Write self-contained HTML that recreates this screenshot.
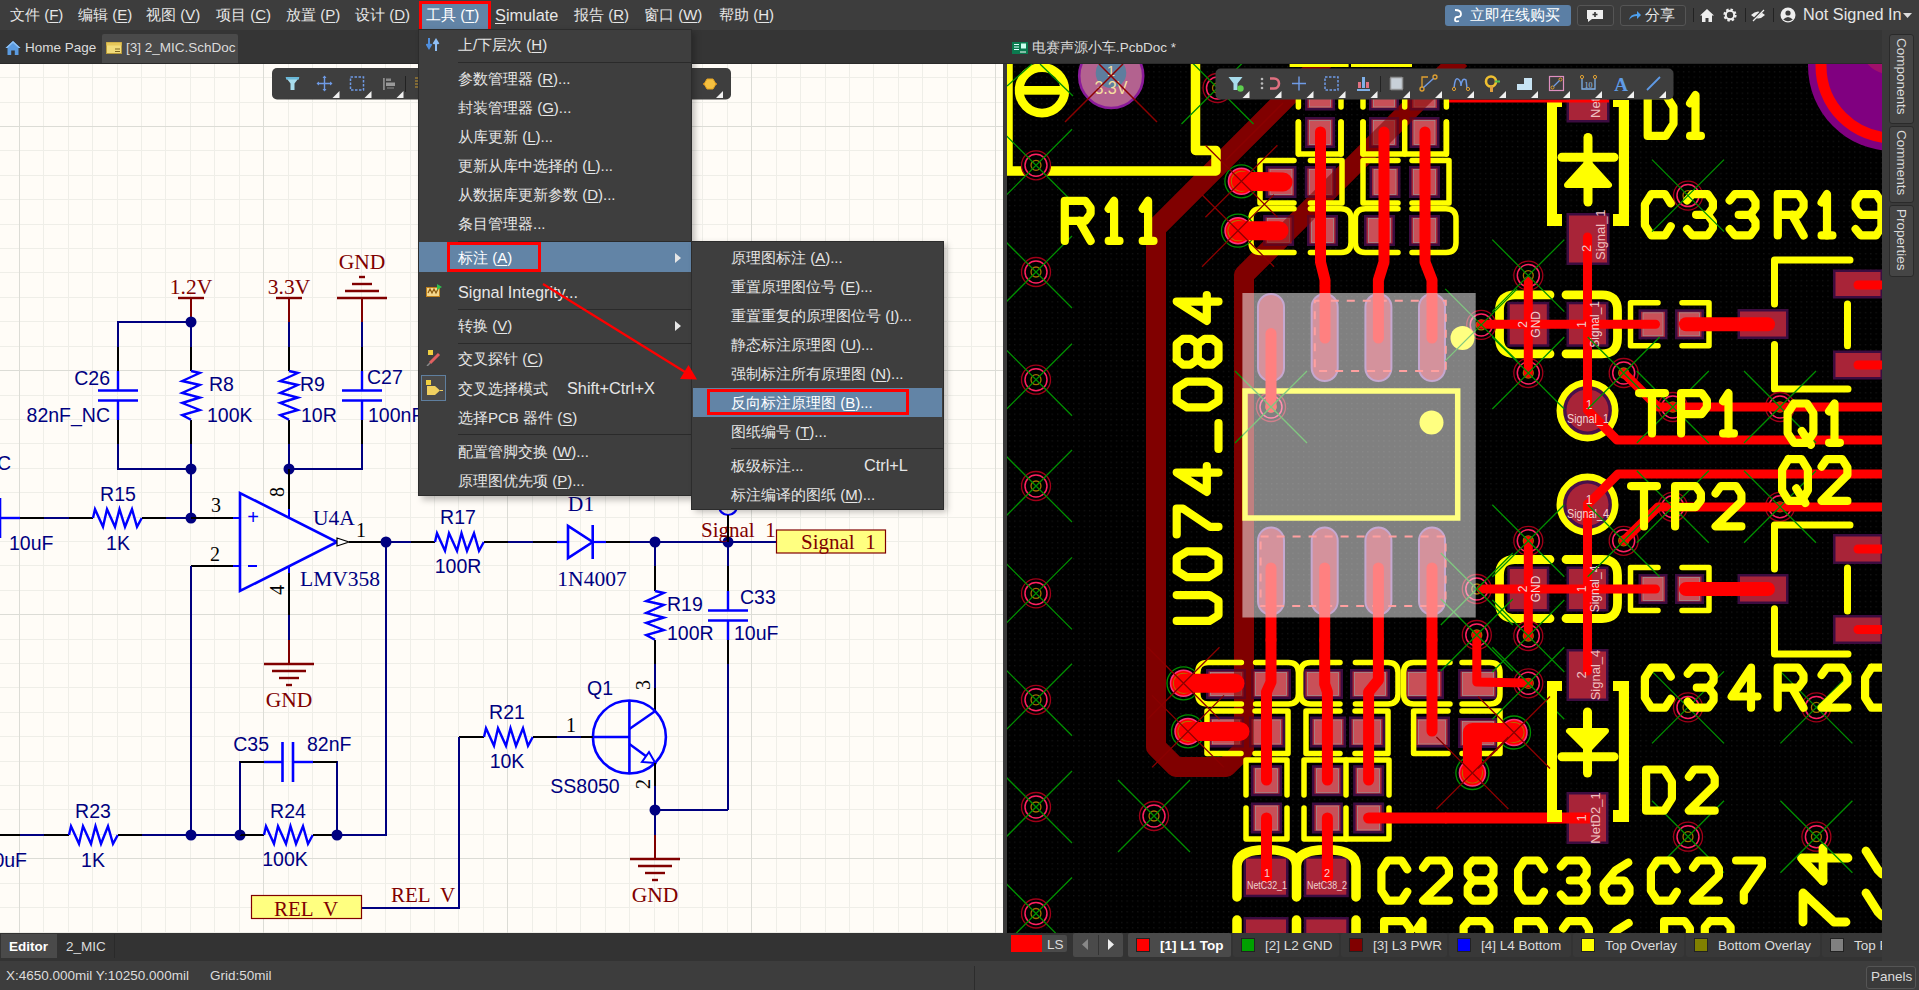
<!DOCTYPE html>
<html><head><meta charset="utf-8"><style>
*{margin:0;padding:0;box-sizing:content-box}
html,body{width:1919px;height:990px;overflow:hidden;background:#333;font-family:"Liberation Sans",sans-serif}
.abs{position:absolute}
u{text-decoration:underline;text-underline-offset:2px}
.mt{font-size:15px;color:#e6e6e6;white-space:nowrap;line-height:20px}
.lat{font-size:16.3px}
.tt{font-size:13.5px;color:#dcdcdc;white-space:nowrap;line-height:18px}
.vt{writing-mode:vertical-rl;line-height:20px;font-size:13.5px}
</style></head><body>
<div class="abs" style="left:0;top:0;width:1919px;height:30px;background:#3d3d3d"></div>
<div class="abs mt" style="left:10px;top:5px">文件 (<u>F</u>)</div>
<div class="abs mt" style="left:78px;top:5px">编辑 (<u>E</u>)</div>
<div class="abs mt" style="left:146px;top:5px">视图 (<u>V</u>)</div>
<div class="abs mt" style="left:216px;top:5px">项目 (<u>C</u>)</div>
<div class="abs mt" style="left:286px;top:5px">放置 (<u>P</u>)</div>
<div class="abs mt" style="left:355px;top:5px">设计 (<u>D</u>)</div>
<div class="abs mt" style="left:495px;top:5px"><span class="lat"><u>S</u>imulate</span></div>
<div class="abs mt" style="left:574px;top:5px">报告 (<u>R</u>)</div>
<div class="abs mt" style="left:644px;top:5px">窗口 (<u>W</u>)</div>
<div class="abs mt" style="left:719px;top:5px">帮助 (<u>H</u>)</div>
<div class="abs" style="left:421px;top:2px;width:68px;height:27px;background:#6284a6"></div>
<div class="abs mt" style="left:426px;top:5px;color:#fff">工具 (<u>T</u>)</div>
<div class="abs" style="left:419px;top:1px;width:66px;height:25px;border:3px solid #f00"></div>
<div class="abs" style="left:1445px;top:5px;width:126px;height:21px;background:#5b7fa5;border-radius:3px"></div>
<svg class="abs" style="left:1452px;top:8px" width="12" height="15" viewBox="0 0 12 15"><path d="M3 2 Q9 2 9 6 Q9 9 5 9 M5 9 Q3 9 3 12 Q3 14 7 13" stroke="#fff" stroke-width="1.8" fill="none"/></svg>
<div class="abs mt" style="left:1470px;top:5px;color:#fff">立即在线购买</div>
<div class="abs" style="left:1577px;top:5px;width:35px;height:19px;background:#3a3a3a;border:1px solid #555;border-radius:3px"></div>
<svg class="abs" style="left:1586px;top:9px" width="18" height="14" viewBox="0 0 18 14"><path d="M1 1 H17 V10 H6 L2 13 V10 H1 Z" fill="#eee"/><path d="M9 3 V8 M6.5 5.5 H11.5" stroke="#333" stroke-width="1.6"/></svg>
<div class="abs" style="left:1620px;top:5px;width:64px;height:19px;background:#3a3a3a;border:1px solid #555;border-radius:3px"></div>
<svg class="abs" style="left:1628px;top:9px" width="14" height="12" viewBox="0 0 14 12"><path d="M1 11 Q2 5 9 5 V2 L13 6 L9 10 V7 Q4 7 1 11Z" fill="#4ea1f0"/></svg>
<div class="abs mt" style="left:1645px;top:5px">分享</div>
<div class="abs" style="left:1693px;top:8px;width:1px;height:14px;background:#222"></div>
<svg class="abs" style="left:1699px;top:8px" width="16" height="15" viewBox="0 0 16 15"><path d="M8 1 L15 7.5 H13 V14 H9.5 V10 H6.5 V14 H3 V7.5 H1 Z" fill="#eee"/></svg>
<svg class="abs" style="left:1722px;top:7px" width="16" height="16" viewBox="0 0 16 16"><circle cx="8" cy="8" r="5" fill="none" stroke="#eee" stroke-width="3.2" stroke-dasharray="2.2 1.7"/><circle cx="8" cy="8" r="4.2" fill="none" stroke="#eee" stroke-width="2"/><circle cx="8" cy="8" r="1.5" fill="#3d3d3d"/></svg>
<div class="abs" style="left:1745px;top:8px;width:1px;height:14px;background:#222"></div>
<svg class="abs" style="left:1750px;top:8px" width="16" height="14" viewBox="0 0 16 14"><path d="M1 7 Q8 0 15 7 Q8 14 1 7Z" fill="#eee"/><path d="M2 13 L14 1" stroke="#3d3d3d" stroke-width="2.4"/><path d="M3 13 L14 2" stroke="#eee" stroke-width="1.2"/></svg>
<div class="abs" style="left:1773px;top:8px;width:1px;height:14px;background:#222"></div>
<svg class="abs" style="left:1780px;top:7px" width="16" height="16" viewBox="0 0 16 16"><circle cx="8" cy="8" r="7.5" fill="#eee"/><circle cx="8" cy="6" r="2.6" fill="#3d3d3d"/><path d="M3.2 12.5 Q8 7.5 12.8 12.5 Q8 16 3.2 12.5Z" fill="#3d3d3d"/></svg>
<div class="abs mt lat" style="left:1803px;top:4px">Not Signed In</div>
<svg class="abs" style="left:1903px;top:13px" width="9" height="6"><path d="M0 0 H9 L4.5 5Z" fill="#ddd"/></svg>
<div class="abs" style="left:0;top:30px;width:1919px;height:34px;background:#353535"></div>
<div class="abs" style="left:0;top:63px;width:1919px;height:1px;background:#2a2a2a"></div>
<svg class="abs" style="left:5px;top:40px" width="16" height="16" viewBox="0 0 16 16"><path d="M8 1 L15.5 8 H13.5 V15 H9.8 V10.5 H6.2 V15 H2.5 V8 H0.5 Z" fill="#5b9be0"/><path d="M8 1 L15.5 8 H13.5 L8 3 L2.5 8 H0.5Z" fill="#8cc0f5"/></svg>
<div class="abs tt" style="left:25px;top:39px">Home Page</div>
<div class="abs" style="left:102px;top:34px;width:136px;height:29px;background:#4a4a4a;border-radius:2px 2px 0 0"></div>
<svg class="abs" style="left:106px;top:42px" width="16" height="12" viewBox="0 0 16 12"><rect x="0.5" y="0.5" width="15" height="11" fill="#f2dc7a" stroke="#b89a3a"/><rect x="0.5" y="0.5" width="15" height="3" fill="#e6c75a"/><path d="M9 7 H14 M9 9.5 H14" stroke="#7a6420" stroke-width="1"/></svg>
<div class="abs tt" style="left:126px;top:39px">[3] 2_MIC.SchDoc</div>
<svg class="abs" style="left:1012px;top:42px" width="16" height="12" viewBox="0 0 16 12"><rect width="16" height="12" fill="#0b7a4f"/><path d="M2 2.5 H7 M2 5 H7 M2 7.5 H7" stroke="#dff" stroke-width="1.1"/><rect x="9" y="1.5" width="5" height="5" fill="#cfe"/><path d="M9 9 V11 M11 9 V11 M13 9 V11" stroke="#fff" stroke-width="1"/></svg>
<div class="abs tt" style="left:1032px;top:39px">电赛声源小车.PcbDoc *</div>
<div class="abs" style="left:0;top:933px;width:1007px;height:28px;background:#333"></div>
<div class="abs" style="left:1px;top:934px;width:56px;height:24px;background:#4a4a4a"></div>
<div class="abs tt" style="left:9px;top:938px;color:#fff;font-weight:bold">Editor</div>
<div class="abs" style="left:58px;top:934px;width:56px;height:24px;background:#333;border-right:1px solid #2a2a2a"></div>
<div class="abs tt" style="left:66px;top:938px">2_MIC</div>
<div class="abs" style="left:1003px;top:932px;width:916px;height:29px;background:#333"></div>
<div class="abs" style="left:1011px;top:935px;width:56px;height:17px;background:#4a4a4a;border-radius:2px"></div>
<div class="abs" style="left:1011px;top:935px;width:31px;height:17px;background:#f00"></div>
<div class="abs tt" style="left:1047px;top:936px">LS</div>
<div class="abs" style="left:1073px;top:933px;width:50px;height:24px;background:#4a4a4a;border-radius:2px"></div>
<div class="abs" style="left:1098px;top:935px;width:1px;height:20px;background:#333"></div>
<svg class="abs" style="left:1081px;top:939px" width="8" height="12"><path d="M7 0 V11 L1 5.5Z" fill="#888"/></svg>
<svg class="abs" style="left:1107px;top:939px" width="8" height="12"><path d="M1 0 V11 L7 5.5Z" fill="#eee"/></svg>
<div class="abs" style="left:1128px;top:933px;width:103px;height:24px;background:#4a4a4a;border-radius:2px"></div>
<div class="abs" style="left:1136px;top:938px;width:12px;height:12px;background:#f00;border:1px solid #222"></div>
<div class="abs tt" style="left:1160px;top:937px;font-weight:bold;color:#fff;">[1] L1 Top</div>
<div class="abs" style="left:1233px;top:933px;width:106px;height:24px;background:#383838;border-radius:2px"></div>
<div class="abs" style="left:1241px;top:938px;width:12px;height:12px;background:#00a000;border:1px solid #222"></div>
<div class="abs tt" style="left:1265px;top:937px;">[2] L2 GND</div>
<div class="abs" style="left:1341px;top:933px;width:106px;height:24px;background:#383838;border-radius:2px"></div>
<div class="abs" style="left:1349px;top:938px;width:12px;height:12px;background:#800000;border:1px solid #222"></div>
<div class="abs tt" style="left:1373px;top:937px;">[3] L3 PWR</div>
<div class="abs" style="left:1449px;top:933px;width:122px;height:24px;background:#383838;border-radius:2px"></div>
<div class="abs" style="left:1457px;top:938px;width:12px;height:12px;background:#0000ff;border:1px solid #222"></div>
<div class="abs tt" style="left:1481px;top:937px;">[4] L4 Bottom</div>
<div class="abs" style="left:1573px;top:933px;width:111px;height:24px;background:#383838;border-radius:2px"></div>
<div class="abs" style="left:1581px;top:938px;width:12px;height:12px;background:#ffff00;border:1px solid #222"></div>
<div class="abs tt" style="left:1605px;top:937px;">Top Overlay</div>
<div class="abs" style="left:1686px;top:933px;width:134px;height:24px;background:#383838;border-radius:2px"></div>
<div class="abs" style="left:1694px;top:938px;width:12px;height:12px;background:#808000;border:1px solid #222"></div>
<div class="abs tt" style="left:1718px;top:937px;">Bottom Overlay</div>
<div class="abs" style="left:1822px;top:933px;width:117px;height:24px;background:#383838;border-radius:2px"></div>
<div class="abs" style="left:1830px;top:938px;width:12px;height:12px;background:#808080;border:1px solid #222"></div>
<div class="abs tt" style="left:1854px;top:937px;">Top Paste</div>
<div class="abs" style="left:0;top:961px;width:1919px;height:29px;background:#3d3d3d"></div>
<div class="abs tt" style="left:6px;top:967px">X:4650.000mil Y:10250.000mil</div>
<div class="abs tt" style="left:210px;top:967px">Grid:50mil</div>
<div class="abs" style="left:974px;top:966px;width:1px;height:24px;background:#2c2c2c"></div>
<div class="abs" style="left:1866px;top:966px;width:48px;height:21px;background:#3a3a3a;border:1px solid #555;border-radius:3px"></div>
<div class="abs tt" style="left:1871px;top:968px">Panels</div>
<div class="abs" style="left:1882px;top:30px;width:37px;height:931px;background:#3a3a3a"></div>
<div class="abs" style="left:1889px;top:34px;width:23px;height:88px;background:#454545;border:1px solid #2a2a2a;border-radius:3px"></div>
<div class="abs tt vt" style="left:1891px;top:38px;width:20px;height:80px">Components</div>
<div class="abs" style="left:1889px;top:126px;width:23px;height:75px;background:#454545;border:1px solid #2a2a2a;border-radius:3px"></div>
<div class="abs tt vt" style="left:1891px;top:130px;width:20px;height:67px">Comments</div>
<div class="abs" style="left:1889px;top:205px;width:23px;height:70px;background:#454545;border:1px solid #2a2a2a;border-radius:3px"></div>
<div class="abs tt vt" style="left:1891px;top:209px;width:20px;height:62px">Properties</div>
<svg class="abs" style="left:0;top:64px" width="1003" height="869" viewBox="0 64 1003 869">
<rect x="0" y="64" width="1003" height="869" fill="#fffcf7"/>
<line x1="43.5" y1="64" x2="43.5" y2="933" stroke="#efeee8"/>
<line x1="68.5" y1="64" x2="68.5" y2="933" stroke="#efeee8"/>
<line x1="92.5" y1="64" x2="92.5" y2="933" stroke="#efeee8"/>
<line x1="117.5" y1="64" x2="117.5" y2="933" stroke="#efeee8"/>
<line x1="141.5" y1="64" x2="141.5" y2="933" stroke="#efeee8"/>
<line x1="165.5" y1="64" x2="165.5" y2="933" stroke="#efeee8"/>
<line x1="190.5" y1="64" x2="190.5" y2="933" stroke="#efeee8"/>
<line x1="214.5" y1="64" x2="214.5" y2="933" stroke="#efeee8"/>
<line x1="239.5" y1="64" x2="239.5" y2="933" stroke="#efeee8"/>
<line x1="288.5" y1="64" x2="288.5" y2="933" stroke="#efeee8"/>
<line x1="312.5" y1="64" x2="312.5" y2="933" stroke="#efeee8"/>
<line x1="336.5" y1="64" x2="336.5" y2="933" stroke="#efeee8"/>
<line x1="361.5" y1="64" x2="361.5" y2="933" stroke="#efeee8"/>
<line x1="385.5" y1="64" x2="385.5" y2="933" stroke="#efeee8"/>
<line x1="410.5" y1="64" x2="410.5" y2="933" stroke="#efeee8"/>
<line x1="434.5" y1="64" x2="434.5" y2="933" stroke="#efeee8"/>
<line x1="458.5" y1="64" x2="458.5" y2="933" stroke="#efeee8"/>
<line x1="483.5" y1="64" x2="483.5" y2="933" stroke="#efeee8"/>
<line x1="532.5" y1="64" x2="532.5" y2="933" stroke="#efeee8"/>
<line x1="556.5" y1="64" x2="556.5" y2="933" stroke="#efeee8"/>
<line x1="580.5" y1="64" x2="580.5" y2="933" stroke="#efeee8"/>
<line x1="605.5" y1="64" x2="605.5" y2="933" stroke="#efeee8"/>
<line x1="629.5" y1="64" x2="629.5" y2="933" stroke="#efeee8"/>
<line x1="654.5" y1="64" x2="654.5" y2="933" stroke="#efeee8"/>
<line x1="678.5" y1="64" x2="678.5" y2="933" stroke="#efeee8"/>
<line x1="702.5" y1="64" x2="702.5" y2="933" stroke="#efeee8"/>
<line x1="727.5" y1="64" x2="727.5" y2="933" stroke="#efeee8"/>
<line x1="776.5" y1="64" x2="776.5" y2="933" stroke="#efeee8"/>
<line x1="800.5" y1="64" x2="800.5" y2="933" stroke="#efeee8"/>
<line x1="825.5" y1="64" x2="825.5" y2="933" stroke="#efeee8"/>
<line x1="849.5" y1="64" x2="849.5" y2="933" stroke="#efeee8"/>
<line x1="873.5" y1="64" x2="873.5" y2="933" stroke="#efeee8"/>
<line x1="898.5" y1="64" x2="898.5" y2="933" stroke="#efeee8"/>
<line x1="922.5" y1="64" x2="922.5" y2="933" stroke="#efeee8"/>
<line x1="947.5" y1="64" x2="947.5" y2="933" stroke="#efeee8"/>
<line x1="971.5" y1="64" x2="971.5" y2="933" stroke="#efeee8"/>
<line x1="0" y1="77.5" x2="1003" y2="77.5" stroke="#efeee8"/>
<line x1="0" y1="102.5" x2="1003" y2="102.5" stroke="#efeee8"/>
<line x1="0" y1="150.5" x2="1003" y2="150.5" stroke="#efeee8"/>
<line x1="0" y1="175.5" x2="1003" y2="175.5" stroke="#efeee8"/>
<line x1="0" y1="199.5" x2="1003" y2="199.5" stroke="#efeee8"/>
<line x1="0" y1="224.5" x2="1003" y2="224.5" stroke="#efeee8"/>
<line x1="0" y1="248.5" x2="1003" y2="248.5" stroke="#efeee8"/>
<line x1="0" y1="272.5" x2="1003" y2="272.5" stroke="#efeee8"/>
<line x1="0" y1="297.5" x2="1003" y2="297.5" stroke="#efeee8"/>
<line x1="0" y1="321.5" x2="1003" y2="321.5" stroke="#efeee8"/>
<line x1="0" y1="346.5" x2="1003" y2="346.5" stroke="#efeee8"/>
<line x1="0" y1="395.5" x2="1003" y2="395.5" stroke="#efeee8"/>
<line x1="0" y1="419.5" x2="1003" y2="419.5" stroke="#efeee8"/>
<line x1="0" y1="443.5" x2="1003" y2="443.5" stroke="#efeee8"/>
<line x1="0" y1="468.5" x2="1003" y2="468.5" stroke="#efeee8"/>
<line x1="0" y1="492.5" x2="1003" y2="492.5" stroke="#efeee8"/>
<line x1="0" y1="517.5" x2="1003" y2="517.5" stroke="#efeee8"/>
<line x1="0" y1="541.5" x2="1003" y2="541.5" stroke="#efeee8"/>
<line x1="0" y1="565.5" x2="1003" y2="565.5" stroke="#efeee8"/>
<line x1="0" y1="590.5" x2="1003" y2="590.5" stroke="#efeee8"/>
<line x1="0" y1="639.5" x2="1003" y2="639.5" stroke="#efeee8"/>
<line x1="0" y1="663.5" x2="1003" y2="663.5" stroke="#efeee8"/>
<line x1="0" y1="687.5" x2="1003" y2="687.5" stroke="#efeee8"/>
<line x1="0" y1="712.5" x2="1003" y2="712.5" stroke="#efeee8"/>
<line x1="0" y1="736.5" x2="1003" y2="736.5" stroke="#efeee8"/>
<line x1="0" y1="761.5" x2="1003" y2="761.5" stroke="#efeee8"/>
<line x1="0" y1="785.5" x2="1003" y2="785.5" stroke="#efeee8"/>
<line x1="0" y1="809.5" x2="1003" y2="809.5" stroke="#efeee8"/>
<line x1="0" y1="834.5" x2="1003" y2="834.5" stroke="#efeee8"/>
<line x1="0" y1="883.5" x2="1003" y2="883.5" stroke="#efeee8"/>
<line x1="0" y1="907.5" x2="1003" y2="907.5" stroke="#efeee8"/>
<line x1="0" y1="932.5" x2="1003" y2="932.5" stroke="#efeee8"/>
<line x1="19.5" y1="64" x2="19.5" y2="933" stroke="#dcdcd6"/>
<line x1="263.5" y1="64" x2="263.5" y2="933" stroke="#dcdcd6"/>
<line x1="507.5" y1="64" x2="507.5" y2="933" stroke="#dcdcd6"/>
<line x1="751.5" y1="64" x2="751.5" y2="933" stroke="#dcdcd6"/>
<line x1="995.5" y1="64" x2="995.5" y2="933" stroke="#dcdcd6"/>
<line x1="0" y1="126.5" x2="1003" y2="126.5" stroke="#dcdcd6"/>
<line x1="0" y1="370.5" x2="1003" y2="370.5" stroke="#dcdcd6"/>
<line x1="0" y1="614.5" x2="1003" y2="614.5" stroke="#dcdcd6"/>
<line x1="0" y1="858.5" x2="1003" y2="858.5" stroke="#dcdcd6"/>
<line x1="178" y1="298" x2="204" y2="298" stroke="#800000" stroke-width="2.4"/>
<line x1="191" y1="298" x2="191" y2="322" stroke="#800000" stroke-width="2"/>
<text xml:space="preserve" x="191" y="294" font-family="Liberation Serif" font-size="21.5" fill="#800000" text-anchor="middle" >1.2V</text>
<line x1="276" y1="298" x2="302" y2="298" stroke="#800000" stroke-width="2.4"/>
<line x1="289" y1="298" x2="289" y2="322" stroke="#800000" stroke-width="2"/>
<text xml:space="preserve" x="289" y="294" font-family="Liberation Serif" font-size="21.5" fill="#800000" text-anchor="middle" >3.3V</text>
<line x1="362" y1="298" x2="362" y2="322" stroke="#800000" stroke-width="2"/>
<line x1="337" y1="298" x2="387" y2="298" stroke="#800000" stroke-width="2.4"/>
<line x1="345" y1="291" x2="379" y2="291" stroke="#800000" stroke-width="2.4"/>
<line x1="352" y1="284" x2="372" y2="284" stroke="#800000" stroke-width="2.4"/>
<line x1="359" y1="277" x2="365" y2="277" stroke="#800000" stroke-width="2.4"/>
<text xml:space="preserve" x="362" y="269" font-family="Liberation Serif" font-size="21.5" fill="#800000" text-anchor="middle" >GND</text>
<polyline points="118.0,347.0 118.0,322.0 191.0,322.0 191.0,347.0" stroke="#000080" stroke-width="2" fill="none"/>
<polyline points="118.0,444.0 118.0,469.0 191.0,469.0 191.0,444.0" stroke="#000080" stroke-width="2" fill="none"/>
<line x1="191" y1="469" x2="191" y2="518" stroke="#000080" stroke-width="2"/>
<polyline points="289.0,347.0 289.0,322.0" stroke="#000080" stroke-width="2" fill="none"/>
<polyline points="362.0,347.0 362.0,322.0" stroke="#000080" stroke-width="2" fill="none"/>
<polyline points="289.0,444.0 289.0,469.0 362.0,469.0 362.0,444.0" stroke="#000080" stroke-width="2" fill="none"/>
<line x1="118" y1="347" x2="118" y2="371" stroke="#000" stroke-width="2"/>
<line x1="118" y1="420" x2="118" y2="444" stroke="#000" stroke-width="2"/>
<line x1="191" y1="347" x2="191" y2="371" stroke="#000" stroke-width="2"/>
<line x1="191" y1="420" x2="191" y2="444" stroke="#000" stroke-width="2"/>
<line x1="289" y1="347" x2="289" y2="371" stroke="#000" stroke-width="2"/>
<line x1="289" y1="420" x2="289" y2="444" stroke="#000" stroke-width="2"/>
<line x1="362" y1="347" x2="362" y2="371" stroke="#000" stroke-width="2"/>
<line x1="362" y1="420" x2="362" y2="444" stroke="#000" stroke-width="2"/>
<polyline points="191.0,371.0 199.8,373.0 182.2,381.0 199.8,385.0 182.2,393.0 199.8,397.5 182.2,403.0 199.8,410.0 182.2,415.0 191.0,419.8" stroke="#0000ff" stroke-width="2.4" fill="none"/>
<polyline points="289.0,371.0 297.8,373.0 280.2,381.0 297.8,385.0 280.2,393.0 297.8,397.5 280.2,403.0 297.8,410.0 280.2,415.0 289.0,419.8" stroke="#0000ff" stroke-width="2.4" fill="none"/>
<line x1="118" y1="371" x2="118" y2="390.5" stroke="#0000ff" stroke-width="2.4"/>
<line x1="118" y1="400.5" x2="118" y2="420" stroke="#0000ff" stroke-width="2.4"/>
<line x1="98" y1="390.5" x2="138" y2="390.5" stroke="#0000ff" stroke-width="2.6"/>
<line x1="98" y1="400.5" x2="138" y2="400.5" stroke="#0000ff" stroke-width="2.6"/>
<line x1="362" y1="371" x2="362" y2="390.5" stroke="#0000ff" stroke-width="2.4"/>
<line x1="362" y1="400.5" x2="362" y2="420" stroke="#0000ff" stroke-width="2.4"/>
<line x1="342" y1="390.5" x2="382" y2="390.5" stroke="#0000ff" stroke-width="2.6"/>
<line x1="342" y1="400.5" x2="382" y2="400.5" stroke="#0000ff" stroke-width="2.6"/>
<circle cx="191" cy="322" r="5.5" fill="#000080"/>
<circle cx="191" cy="469" r="5.5" fill="#000080"/>
<circle cx="289" cy="469" r="5.5" fill="#000080"/>
<text xml:space="preserve" x="110" y="385" font-family="Liberation Sans" font-size="19.5" fill="#000080" text-anchor="end" >C26</text>
<text xml:space="preserve" x="110" y="421.5" font-family="Liberation Sans" font-size="19.5" fill="#000080" text-anchor="end" >82nF_NC</text>
<text xml:space="preserve" x="209" y="391" font-family="Liberation Sans" font-size="19.5" fill="#000080" text-anchor="start" >R8</text>
<text xml:space="preserve" x="207" y="422" font-family="Liberation Sans" font-size="19.5" fill="#000080" text-anchor="start" >100K</text>
<text xml:space="preserve" x="300" y="391" font-family="Liberation Sans" font-size="19.5" fill="#000080" text-anchor="start" >R9</text>
<text xml:space="preserve" x="301" y="422" font-family="Liberation Sans" font-size="19.5" fill="#000080" text-anchor="start" >10R</text>
<text xml:space="preserve" x="367" y="384" font-family="Liberation Sans" font-size="19.5" fill="#000080" text-anchor="start" >C27</text>
<text xml:space="preserve" x="368" y="422" font-family="Liberation Sans" font-size="19.5" fill="#000080" text-anchor="start" >100nF</text>
<line x1="0" y1="498" x2="0" y2="538" stroke="#0000ff" stroke-width="2.6"/>
<line x1="0" y1="518" x2="20" y2="518" stroke="#0000ff" stroke-width="2.4"/>
<line x1="20" y1="518" x2="44" y2="518" stroke="#000" stroke-width="2"/>
<line x1="44" y1="518" x2="69" y2="518" stroke="#000080" stroke-width="2"/>
<line x1="69" y1="518" x2="93" y2="518" stroke="#000" stroke-width="2"/>
<polyline points="93.0,518.0 95.0,509.2 103.0,526.8 107.0,509.2 115.0,526.8 119.5,509.2 125.0,526.8 132.0,509.2 137.0,526.8 141.8,518.0" stroke="#0000ff" stroke-width="2.4" fill="none"/>
<line x1="142" y1="518" x2="166" y2="518" stroke="#000" stroke-width="2"/>
<line x1="166" y1="518" x2="191" y2="518" stroke="#000080" stroke-width="2"/>
<circle cx="191" cy="518" r="5.5" fill="#000080"/>
<text xml:space="preserve" x="-3" y="470" font-family="Liberation Sans" font-size="19.5" fill="#000080" text-anchor="start" >C</text>
<text xml:space="preserve" x="9" y="549.5" font-family="Liberation Sans" font-size="19.5" fill="#000080" text-anchor="start" >10uF</text>
<text xml:space="preserve" x="118" y="501" font-family="Liberation Sans" font-size="19.5" fill="#000080" text-anchor="middle" >R15</text>
<text xml:space="preserve" x="118" y="549.5" font-family="Liberation Sans" font-size="19.5" fill="#000080" text-anchor="middle" >1K</text>
<line x1="191" y1="518" x2="233" y2="518" stroke="#000" stroke-width="2"/>
<line x1="233" y1="518" x2="240" y2="518" stroke="#0000ff" stroke-width="2"/>
<polygon points="240,493 240,591 337,542" fill="none" stroke="#0000ff" stroke-width="2.6"/>
<line x1="191" y1="566" x2="233" y2="566" stroke="#000" stroke-width="2"/>
<line x1="233" y1="566" x2="240" y2="566" stroke="#0000ff" stroke-width="2"/>
<text xml:space="preserve" x="216" y="512" font-family="Liberation Serif" font-size="20" fill="#000" text-anchor="middle" >3</text>
<text xml:space="preserve" x="215" y="561" font-family="Liberation Serif" font-size="20" fill="#000" text-anchor="middle" >2</text>
<text xml:space="preserve" x="253" y="524" font-family="Liberation Sans" font-size="20" fill="#0000ff" text-anchor="middle" >+</text>
<line x1="248" y1="566" x2="257" y2="566" stroke="#0000ff" stroke-width="2"/>
<line x1="289" y1="469" x2="289" y2="509" stroke="#000" stroke-width="2"/>
<line x1="289" y1="509" x2="289" y2="517" stroke="#0000ff" stroke-width="2"/>
<line x1="289" y1="566" x2="289" y2="573" stroke="#0000ff" stroke-width="2"/>
<line x1="289" y1="573" x2="289" y2="615" stroke="#000" stroke-width="2"/>
<line x1="289" y1="615" x2="289" y2="640" stroke="#000080" stroke-width="2"/>
<line x1="289" y1="640" x2="289" y2="664" stroke="#800000" stroke-width="2"/>
<line x1="264" y1="664" x2="314" y2="664" stroke="#800000" stroke-width="2.4"/>
<line x1="272" y1="671" x2="306" y2="671" stroke="#800000" stroke-width="2.4"/>
<line x1="279" y1="678" x2="299" y2="678" stroke="#800000" stroke-width="2.4"/>
<line x1="286" y1="685" x2="292" y2="685" stroke="#800000" stroke-width="2.4"/>
<text xml:space="preserve" x="289" y="707" font-family="Liberation Serif" font-size="21.5" fill="#800000" text-anchor="middle" >GND</text>
<text xml:space="preserve" x="284" y="492" font-family="Liberation Serif" font-size="20" fill="#000" text-anchor="middle" transform="rotate(-90 284 492)" dy="0">8</text>
<text xml:space="preserve" x="284" y="590" font-family="Liberation Serif" font-size="20" fill="#000" text-anchor="middle" transform="rotate(-90 284 590)">4</text>
<text xml:space="preserve" x="313" y="525" font-family="Liberation Serif" font-size="21.5" fill="#000080" text-anchor="start" >U4A</text>
<text xml:space="preserve" x="300" y="586" font-family="Liberation Serif" font-size="21.5" fill="#000080" text-anchor="start" >LMV358</text>
<polygon points="337,538 349,542 337,546" fill="#fff" stroke="#000" stroke-width="1.2"/>
<line x1="349" y1="542" x2="386" y2="542" stroke="#000" stroke-width="2"/>
<circle cx="386" cy="542" r="5.5" fill="#000080"/>
<text xml:space="preserve" x="361" y="537" font-family="Liberation Serif" font-size="20" fill="#000" text-anchor="middle" >1</text>
<line x1="386" y1="542" x2="411" y2="542" stroke="#000080" stroke-width="2"/>
<line x1="411" y1="542" x2="435" y2="542" stroke="#000" stroke-width="2"/>
<polyline points="435.0,542.0 437.0,533.2 445.0,550.8 449.0,533.2 457.0,550.8 461.5,533.2 467.0,550.8 474.0,533.2 479.0,550.8 483.8,542.0" stroke="#0000ff" stroke-width="2.4" fill="none"/>
<line x1="484" y1="542" x2="508" y2="542" stroke="#000" stroke-width="2"/>
<line x1="508" y1="542" x2="533" y2="542" stroke="#000080" stroke-width="2"/>
<line x1="533" y1="542" x2="557" y2="542" stroke="#000" stroke-width="2"/>
<text xml:space="preserve" x="458" y="524" font-family="Liberation Sans" font-size="19.5" fill="#000080" text-anchor="middle" >R17</text>
<text xml:space="preserve" x="458" y="573" font-family="Liberation Sans" font-size="19.5" fill="#000080" text-anchor="middle" >100R</text>
<line x1="557" y1="542" x2="568" y2="542" stroke="#0000ff" stroke-width="2.2"/>
<polygon points="568,526 568,558 592.7,542" fill="none" stroke="#0000ff" stroke-width="2.6"/>
<line x1="592.7" y1="525" x2="592.7" y2="559" stroke="#0000ff" stroke-width="2.6"/>
<line x1="592.7" y1="542" x2="606" y2="542" stroke="#0000ff" stroke-width="2.2"/>
<line x1="606" y1="542" x2="630" y2="542" stroke="#000" stroke-width="2"/>
<line x1="630" y1="542" x2="728" y2="542" stroke="#000080" stroke-width="2"/>
<circle cx="655" cy="542" r="5.5" fill="#000080"/>
<circle cx="728" cy="542" r="5.5" fill="#000080"/>
<text xml:space="preserve" x="581" y="511" font-family="Liberation Serif" font-size="21.5" fill="#000080" text-anchor="middle" >D1</text>
<text xml:space="preserve" x="592" y="586" font-family="Liberation Serif" font-size="21.5" fill="#000080" text-anchor="middle" >1N4007</text>
<line x1="728" y1="542" x2="776" y2="542" stroke="#000080" stroke-width="2"/>
<rect x="776.5" y="530" width="109" height="23" fill="#ffff80" stroke="#800000" stroke-width="1.2"/>
<text xml:space="preserve" x="801" y="549" font-family="Liberation Serif" font-size="21" fill="#800000" text-anchor="start" >Signal  1</text>
<text xml:space="preserve" x="701" y="537" font-family="Liberation Serif" font-size="21" fill="#800000" text-anchor="start" >Signal  1</text>
<circle cx="728" cy="506" r="9" fill="none" stroke="#0000ff" stroke-width="2.2"/>
<line x1="728" y1="515" x2="728" y2="542" stroke="#000" stroke-width="2"/>
<line x1="655" y1="542" x2="655" y2="566" stroke="#000080" stroke-width="2"/>
<line x1="655" y1="566" x2="655" y2="591" stroke="#000" stroke-width="2"/>
<polyline points="655.0,591.0 663.8,593.0 646.2,601.0 663.8,605.0 646.2,613.0 663.8,617.5 646.2,623.0 663.8,630.0 646.2,635.0 655.0,639.8" stroke="#0000ff" stroke-width="2.4" fill="none"/>
<line x1="655" y1="640" x2="655" y2="664" stroke="#000" stroke-width="2"/>
<line x1="655" y1="664" x2="655" y2="688" stroke="#000080" stroke-width="2"/>
<line x1="655" y1="688" x2="655" y2="711" stroke="#000" stroke-width="2"/>
<text xml:space="preserve" x="667" y="611" font-family="Liberation Sans" font-size="19.5" fill="#000080" text-anchor="start" >R19</text>
<text xml:space="preserve" x="667" y="640" font-family="Liberation Sans" font-size="19.5" fill="#000080" text-anchor="start" >100R</text>
<line x1="728" y1="542" x2="728" y2="566" stroke="#000080" stroke-width="2"/>
<line x1="728" y1="566" x2="728" y2="591" stroke="#000" stroke-width="2"/>
<line x1="728" y1="591" x2="728" y2="610.5" stroke="#0000ff" stroke-width="2.4"/>
<line x1="728" y1="620.5" x2="728" y2="640" stroke="#0000ff" stroke-width="2.4"/>
<line x1="708" y1="610.5" x2="748" y2="610.5" stroke="#0000ff" stroke-width="2.6"/>
<line x1="708" y1="620.5" x2="748" y2="620.5" stroke="#0000ff" stroke-width="2.6"/>
<line x1="728" y1="640" x2="728" y2="664" stroke="#000" stroke-width="2"/>
<line x1="728" y1="664" x2="728" y2="810" stroke="#000080" stroke-width="2"/>
<text xml:space="preserve" x="740" y="604" font-family="Liberation Sans" font-size="19.5" fill="#000080" text-anchor="start" >C33</text>
<text xml:space="preserve" x="734" y="640" font-family="Liberation Sans" font-size="19.5" fill="#000080" text-anchor="start" >10uF</text>
<polyline points="728.0,810.0 655.0,810.0" stroke="#000080" stroke-width="2" fill="none"/>
<circle cx="655" cy="810" r="5.5" fill="#000080"/>
<circle cx="629.4" cy="737" r="36.5" fill="none" stroke="#0000ff" stroke-width="2.6"/>
<line x1="592.7" y1="737" x2="629.4" y2="737" stroke="#0000ff" stroke-width="2.4"/>
<line x1="629.4" y1="700" x2="629.4" y2="773" stroke="#0000ff" stroke-width="2.6"/>
<line x1="629.4" y1="729" x2="655.3" y2="711" stroke="#0000ff" stroke-width="2.4"/>
<line x1="629.4" y1="744" x2="655.3" y2="763" stroke="#0000ff" stroke-width="2.4"/>
<polygon points="655.3,763 642,762 649,752" fill="#fff" stroke="#0000ff" stroke-width="2"/>
<line x1="655" y1="763" x2="655" y2="786" stroke="#000" stroke-width="2"/>
<line x1="655" y1="786" x2="655" y2="835" stroke="#000080" stroke-width="2"/>
<line x1="655" y1="835" x2="655" y2="859" stroke="#800000" stroke-width="2"/>
<line x1="630" y1="859" x2="680" y2="859" stroke="#800000" stroke-width="2.4"/>
<line x1="638" y1="866" x2="672" y2="866" stroke="#800000" stroke-width="2.4"/>
<line x1="645" y1="873" x2="665" y2="873" stroke="#800000" stroke-width="2.4"/>
<line x1="652" y1="880" x2="658" y2="880" stroke="#800000" stroke-width="2.4"/>
<text xml:space="preserve" x="655" y="902" font-family="Liberation Serif" font-size="21.5" fill="#800000" text-anchor="middle" >GND</text>
<text xml:space="preserve" x="600" y="695" font-family="Liberation Sans" font-size="19.5" fill="#000080" text-anchor="middle" >Q1</text>
<text xml:space="preserve" x="585" y="793" font-family="Liberation Sans" font-size="19.5" fill="#000080" text-anchor="middle" >SS8050</text>
<text xml:space="preserve" x="571" y="732" font-family="Liberation Serif" font-size="20" fill="#000" text-anchor="middle" >1</text>
<text xml:space="preserve" x="650" y="685" font-family="Liberation Serif" font-size="20" fill="#000" text-anchor="middle" transform="rotate(-90 650 685)">3</text>
<text xml:space="preserve" x="650" y="784" font-family="Liberation Serif" font-size="20" fill="#000" text-anchor="middle" transform="rotate(-90 650 784)">2</text>
<line x1="459" y1="737" x2="484" y2="737" stroke="#000" stroke-width="2"/>
<polyline points="484.0,737.0 486.0,728.2 494.0,745.8 498.0,728.2 506.0,745.8 510.5,728.2 516.0,745.8 523.0,728.2 528.0,745.8 532.8,737.0" stroke="#0000ff" stroke-width="2.4" fill="none"/>
<line x1="533" y1="737" x2="557" y2="737" stroke="#000" stroke-width="2"/>
<line x1="557" y1="737" x2="581" y2="737" stroke="#000080" stroke-width="2"/>
<line x1="581" y1="737" x2="592.7" y2="737" stroke="#000" stroke-width="2"/>
<polyline points="459.0,737.0 459.0,908.0 361.5,908.0" stroke="#000080" stroke-width="2" fill="none"/>
<text xml:space="preserve" x="507" y="719" font-family="Liberation Sans" font-size="19.5" fill="#000080" text-anchor="middle" >R21</text>
<text xml:space="preserve" x="507" y="768" font-family="Liberation Sans" font-size="19.5" fill="#000080" text-anchor="middle" >10K</text>
<text xml:space="preserve" x="391" y="902" font-family="Liberation Serif" font-size="21" fill="#800000" text-anchor="start" >REL  V</text>
<rect x="251.5" y="895.5" width="110" height="23" fill="#ffff80" stroke="#800000" stroke-width="1.2"/>
<text xml:space="preserve" x="306" y="916" font-family="Liberation Serif" font-size="21" fill="#800000" text-anchor="middle" >REL  V</text>
<line x1="191" y1="566" x2="191" y2="835" stroke="#000080" stroke-width="2"/>
<circle cx="191" cy="835" r="5.5" fill="#000080"/>
<polyline points="386.0,542.0 386.0,835.0 337.0,835.0" stroke="#000080" stroke-width="2" fill="none"/>
<line x1="0" y1="835" x2="20" y2="835" stroke="#000" stroke-width="2"/>
<line x1="20" y1="835" x2="44" y2="835" stroke="#000080" stroke-width="2"/>
<line x1="44" y1="835" x2="69" y2="835" stroke="#000" stroke-width="2"/>
<polyline points="69.0,835.0 71.0,826.2 79.0,843.8 83.0,826.2 91.0,843.8 95.5,826.2 101.0,843.8 108.0,826.2 113.0,843.8 117.8,835.0" stroke="#0000ff" stroke-width="2.4" fill="none"/>
<line x1="118" y1="835" x2="142" y2="835" stroke="#000" stroke-width="2"/>
<line x1="142" y1="835" x2="240" y2="835" stroke="#000080" stroke-width="2"/>
<circle cx="240" cy="835" r="5.5" fill="#000080"/>
<line x1="240" y1="835" x2="264" y2="835" stroke="#000" stroke-width="2"/>
<polyline points="264.0,835.0 266.0,826.2 274.0,843.8 278.0,826.2 286.0,843.8 290.5,826.2 296.0,843.8 303.0,826.2 308.0,843.8 312.8,835.0" stroke="#0000ff" stroke-width="2.4" fill="none"/>
<line x1="313" y1="835" x2="337" y2="835" stroke="#000" stroke-width="2"/>
<circle cx="337" cy="835" r="5.5" fill="#000080"/>
<text xml:space="preserve" x="93" y="818" font-family="Liberation Sans" font-size="19.5" fill="#000080" text-anchor="middle" >R23</text>
<text xml:space="preserve" x="93" y="867" font-family="Liberation Sans" font-size="19.5" fill="#000080" text-anchor="middle" >1K</text>
<text xml:space="preserve" x="288" y="818" font-family="Liberation Sans" font-size="19.5" fill="#000080" text-anchor="middle" >R24</text>
<text xml:space="preserve" x="285" y="866" font-family="Liberation Sans" font-size="19.5" fill="#000080" text-anchor="middle" >100K</text>
<text xml:space="preserve" x="27" y="867" font-family="Liberation Sans" font-size="19.5" fill="#000080" text-anchor="end" >0uF</text>
<polyline points="240.0,835.0 240.0,762.0 264.0,762.0" stroke="#000080" stroke-width="2" fill="none"/>
<polyline points="337.0,835.0 337.0,762.0 313.0,762.0" stroke="#000080" stroke-width="2" fill="none"/>
<line x1="240" y1="762" x2="265" y2="762" stroke="#000" stroke-width="2"/>
<line x1="312" y1="762" x2="337" y2="762" stroke="#000" stroke-width="2"/>
<line x1="264" y1="762" x2="282.5" y2="762" stroke="#0000ff" stroke-width="2.4"/>
<line x1="293" y1="762" x2="313" y2="762" stroke="#0000ff" stroke-width="2.4"/>
<line x1="282.5" y1="742" x2="282.5" y2="782" stroke="#0000ff" stroke-width="2.6"/>
<line x1="293" y1="742" x2="293" y2="782" stroke="#0000ff" stroke-width="2.6"/>
<text xml:space="preserve" x="269" y="751" font-family="Liberation Sans" font-size="19.5" fill="#000080" text-anchor="end" >C35</text>
<text xml:space="preserve" x="307" y="751" font-family="Liberation Sans" font-size="19.5" fill="#000080" text-anchor="start" >82nF</text>
</svg>
<div class="abs" style="left:1003px;top:64px;width:4px;height:869px;background:#3a3a3a"></div>
<svg class="abs" style="left:1007px;top:64px" width="875" height="869" viewBox="1007 64 875 869">
<rect x="1007" y="64" width="875" height="869" fill="#000"/>
<defs><pattern id="dots" x="1007" y="64" width="5.35" height="5.35" patternUnits="userSpaceOnUse"><rect x="2" y="2" width="1" height="1" fill="#202020"/></pattern></defs>
<rect x="1007" y="64" width="875" height="869" fill="url(#dots)"/>
<polyline points="1330.0,54.0 1156.0,228.0 1156.0,747.0 1176.0,767.0 1226.0,767.0 1244.0,749.0 1244.0,275.0 1400.0,119.0 1460.0,59.0" stroke="#800000" stroke-width="20" fill="none" stroke-linecap="butt" stroke-linejoin="round" />
<rect x="1305.0" y="79.5" width="30" height="31" fill="#3c0c40"/>
<rect x="1307.5" y="82.0" width="25" height="26" fill="#a82438"/>
<rect x="1309.5" y="83.0" width="21" height="24" fill="#c85058" stroke="#a09090" stroke-width="0.8"/>
<rect x="1305.0" y="117.0" width="30" height="31" fill="#3c0c40"/>
<rect x="1307.5" y="119.5" width="25" height="26" fill="#a82438"/>
<rect x="1309.5" y="120.5" width="21" height="24" fill="#c85058" stroke="#a09090" stroke-width="0.8"/>
<rect x="1369.0" y="79.5" width="30" height="31" fill="#3c0c40"/>
<rect x="1371.5" y="82.0" width="25" height="26" fill="#a82438"/>
<rect x="1373.5" y="83.0" width="21" height="24" fill="#c85058" stroke="#a09090" stroke-width="0.8"/>
<rect x="1369.0" y="117.0" width="30" height="31" fill="#3c0c40"/>
<rect x="1371.5" y="119.5" width="25" height="26" fill="#a82438"/>
<rect x="1373.5" y="120.5" width="21" height="24" fill="#c85058" stroke="#a09090" stroke-width="0.8"/>
<rect x="1409.5" y="79.5" width="30" height="31" fill="#3c0c40"/>
<rect x="1412.0" y="82.0" width="25" height="26" fill="#a82438"/>
<rect x="1414.0" y="83.0" width="21" height="24" fill="#c85058" stroke="#a09090" stroke-width="0.8"/>
<rect x="1409.5" y="117.0" width="30" height="31" fill="#3c0c40"/>
<rect x="1412.0" y="119.5" width="25" height="26" fill="#a82438"/>
<rect x="1414.0" y="120.5" width="21" height="24" fill="#c85058" stroke="#a09090" stroke-width="0.8"/>
<rect x="1265.5" y="166.0" width="31" height="32" fill="#3c0c40"/>
<rect x="1268.0" y="168.5" width="26" height="27" fill="#a82438"/>
<rect x="1270.0" y="169.5" width="22" height="25" fill="#c85058" stroke="#a09090" stroke-width="0.8"/>
<rect x="1304.8" y="166.0" width="31" height="32" fill="#3c0c40"/>
<rect x="1307.3" y="168.5" width="26" height="27" fill="#a82438"/>
<rect x="1309.3" y="169.5" width="22" height="25" fill="#c85058" stroke="#a09090" stroke-width="0.8"/>
<rect x="1369.5" y="166.0" width="31" height="32" fill="#3c0c40"/>
<rect x="1372.0" y="168.5" width="26" height="27" fill="#a82438"/>
<rect x="1374.0" y="169.5" width="22" height="25" fill="#c85058" stroke="#a09090" stroke-width="0.8"/>
<rect x="1409.0" y="166.0" width="31" height="32" fill="#3c0c40"/>
<rect x="1411.5" y="168.5" width="26" height="27" fill="#a82438"/>
<rect x="1413.5" y="169.5" width="22" height="25" fill="#c85058" stroke="#a09090" stroke-width="0.8"/>
<rect x="1263.1" y="215.0" width="31" height="31" fill="#3c0c40"/>
<rect x="1265.6" y="217.5" width="26" height="26" fill="#a82438"/>
<rect x="1267.6" y="218.5" width="22" height="24" fill="#c85058" stroke="#a09090" stroke-width="0.8"/>
<rect x="1307.0" y="215.0" width="31" height="31" fill="#3c0c40"/>
<rect x="1309.5" y="217.5" width="26" height="26" fill="#a82438"/>
<rect x="1311.5" y="218.5" width="22" height="24" fill="#c85058" stroke="#a09090" stroke-width="0.8"/>
<rect x="1364.0" y="215.0" width="31" height="31" fill="#3c0c40"/>
<rect x="1366.5" y="217.5" width="26" height="26" fill="#a82438"/>
<rect x="1368.5" y="218.5" width="22" height="24" fill="#c85058" stroke="#a09090" stroke-width="0.8"/>
<rect x="1409.0" y="215.0" width="31" height="31" fill="#3c0c40"/>
<rect x="1411.5" y="217.5" width="26" height="26" fill="#a82438"/>
<rect x="1413.5" y="218.5" width="22" height="24" fill="#c85058" stroke="#a09090" stroke-width="0.8"/>
<rect x="1566.5" y="77.5" width="43" height="45" fill="#3c0c40"/>
<rect x="1569.0" y="80.0" width="38" height="40" fill="#a82438"/>
<rect x="1566.5" y="213.0" width="43" height="52" fill="#3c0c40"/>
<rect x="1569.0" y="215.5" width="38" height="47" fill="#a82438"/>
<rect x="1833.0" y="269.5" width="50" height="29" fill="#3c0c40"/>
<rect x="1835.5" y="272.0" width="45" height="24" fill="#a82438"/>
<rect x="1833.0" y="350.5" width="50" height="29" fill="#3c0c40"/>
<rect x="1835.5" y="353.0" width="45" height="24" fill="#a82438"/>
<rect x="1737.5" y="309.0" width="51" height="30" fill="#3c0c40"/>
<rect x="1740.0" y="311.5" width="46" height="25" fill="#a82438"/>
<rect x="1507.3" y="301.8" width="42" height="45" fill="#3c0c40"/>
<rect x="1509.8" y="304.3" width="37" height="40" fill="#a82438"/>
<rect x="1566.5" y="301.8" width="42" height="45" fill="#3c0c40"/>
<rect x="1569.0" y="304.3" width="37" height="40" fill="#a82438"/>
<rect x="1638.5" y="309.3" width="29" height="30" fill="#3c0c40"/>
<rect x="1641.0" y="311.8" width="24" height="25" fill="#a82438"/>
<rect x="1643.0" y="312.8" width="20" height="23" fill="#c85058" stroke="#a09090" stroke-width="0.8"/>
<rect x="1675.0" y="309.3" width="29" height="30" fill="#3c0c40"/>
<rect x="1677.5" y="311.8" width="24" height="25" fill="#a82438"/>
<rect x="1679.5" y="312.8" width="20" height="23" fill="#c85058" stroke="#a09090" stroke-width="0.8"/>
<rect x="1507.3" y="566.5" width="42" height="45" fill="#3c0c40"/>
<rect x="1509.8" y="569.0" width="37" height="40" fill="#a82438"/>
<rect x="1566.5" y="566.5" width="42" height="45" fill="#3c0c40"/>
<rect x="1569.0" y="569.0" width="37" height="40" fill="#a82438"/>
<rect x="1638.5" y="574.0" width="29" height="30" fill="#3c0c40"/>
<rect x="1641.0" y="576.5" width="24" height="25" fill="#a82438"/>
<rect x="1643.0" y="577.5" width="20" height="23" fill="#c85058" stroke="#a09090" stroke-width="0.8"/>
<rect x="1675.0" y="574.0" width="29" height="30" fill="#3c0c40"/>
<rect x="1677.5" y="576.5" width="24" height="25" fill="#a82438"/>
<rect x="1679.5" y="577.5" width="20" height="23" fill="#c85058" stroke="#a09090" stroke-width="0.8"/>
<rect x="1833.0" y="534.0" width="50" height="30" fill="#3c0c40"/>
<rect x="1835.5" y="536.5" width="45" height="25" fill="#a82438"/>
<rect x="1833.0" y="615.0" width="50" height="29" fill="#3c0c40"/>
<rect x="1835.5" y="617.5" width="45" height="24" fill="#a82438"/>
<rect x="1737.5" y="574.0" width="51" height="30" fill="#3c0c40"/>
<rect x="1740.0" y="576.5" width="46" height="25" fill="#a82438"/>
<rect x="1566.5" y="649.0" width="42" height="52" fill="#3c0c40"/>
<rect x="1569.0" y="651.5" width="37" height="47" fill="#a82438"/>
<rect x="1566.5" y="792.0" width="42" height="52" fill="#3c0c40"/>
<rect x="1569.0" y="794.5" width="37" height="47" fill="#a82438"/>
<rect x="1458.0" y="669.0" width="40" height="30" fill="#3c0c40"/>
<rect x="1460.5" y="671.5" width="35" height="25" fill="#a82438"/>
<rect x="1462.5" y="672.5" width="31" height="23" fill="#c85058" stroke="#a09090" stroke-width="0.8"/>
<rect x="1458.0" y="718.0" width="40" height="30" fill="#3c0c40"/>
<rect x="1460.5" y="720.5" width="35" height="25" fill="#a82438"/>
<rect x="1462.5" y="721.5" width="31" height="23" fill="#c85058" stroke="#a09090" stroke-width="0.8"/>
<rect x="1206.0" y="669.0" width="40" height="30" fill="#3c0c40"/>
<rect x="1208.5" y="671.5" width="35" height="25" fill="#a82438"/>
<rect x="1210.5" y="672.5" width="31" height="23" fill="#c85058" stroke="#a09090" stroke-width="0.8"/>
<rect x="1251.0" y="669.0" width="40" height="30" fill="#3c0c40"/>
<rect x="1253.5" y="671.5" width="35" height="25" fill="#a82438"/>
<rect x="1255.5" y="672.5" width="31" height="23" fill="#c85058" stroke="#a09090" stroke-width="0.8"/>
<rect x="1303.0" y="669.0" width="40" height="30" fill="#3c0c40"/>
<rect x="1305.5" y="671.5" width="35" height="25" fill="#a82438"/>
<rect x="1307.5" y="672.5" width="31" height="23" fill="#c85058" stroke="#a09090" stroke-width="0.8"/>
<rect x="1350.0" y="669.0" width="40" height="30" fill="#3c0c40"/>
<rect x="1352.5" y="671.5" width="35" height="25" fill="#a82438"/>
<rect x="1354.5" y="672.5" width="31" height="23" fill="#c85058" stroke="#a09090" stroke-width="0.8"/>
<rect x="1404.0" y="669.0" width="40" height="30" fill="#3c0c40"/>
<rect x="1406.5" y="671.5" width="35" height="25" fill="#a82438"/>
<rect x="1408.5" y="672.5" width="31" height="23" fill="#c85058" stroke="#a09090" stroke-width="0.8"/>
<rect x="1208.0" y="716.5" width="36" height="31" fill="#3c0c40"/>
<rect x="1210.5" y="719.0" width="31" height="26" fill="#a82438"/>
<rect x="1212.5" y="720.0" width="27" height="24" fill="#c85058" stroke="#a09090" stroke-width="0.8"/>
<rect x="1249.0" y="716.5" width="36" height="31" fill="#3c0c40"/>
<rect x="1251.5" y="719.0" width="31" height="26" fill="#a82438"/>
<rect x="1253.5" y="720.0" width="27" height="24" fill="#c85058" stroke="#a09090" stroke-width="0.8"/>
<rect x="1310.0" y="716.5" width="36" height="31" fill="#3c0c40"/>
<rect x="1312.5" y="719.0" width="31" height="26" fill="#a82438"/>
<rect x="1314.5" y="720.0" width="27" height="24" fill="#c85058" stroke="#a09090" stroke-width="0.8"/>
<rect x="1349.0" y="716.5" width="36" height="31" fill="#3c0c40"/>
<rect x="1351.5" y="719.0" width="31" height="26" fill="#a82438"/>
<rect x="1353.5" y="720.0" width="27" height="24" fill="#c85058" stroke="#a09090" stroke-width="0.8"/>
<rect x="1414.0" y="716.5" width="36" height="31" fill="#3c0c40"/>
<rect x="1416.5" y="719.0" width="31" height="26" fill="#a82438"/>
<rect x="1418.5" y="720.0" width="27" height="24" fill="#c85058" stroke="#a09090" stroke-width="0.8"/>
<rect x="1251.0" y="765.2" width="31" height="31" fill="#3c0c40"/>
<rect x="1253.5" y="767.7" width="26" height="26" fill="#a82438"/>
<rect x="1255.5" y="768.7" width="22" height="24" fill="#c85058" stroke="#a09090" stroke-width="0.8"/>
<rect x="1251.0" y="802.5" width="31" height="31" fill="#3c0c40"/>
<rect x="1253.5" y="805.0" width="26" height="26" fill="#a82438"/>
<rect x="1255.5" y="806.0" width="22" height="24" fill="#c85058" stroke="#a09090" stroke-width="0.8"/>
<rect x="1311.9" y="765.2" width="31" height="31" fill="#3c0c40"/>
<rect x="1314.4" y="767.7" width="26" height="26" fill="#a82438"/>
<rect x="1316.4" y="768.7" width="22" height="24" fill="#c85058" stroke="#a09090" stroke-width="0.8"/>
<rect x="1311.9" y="802.5" width="31" height="31" fill="#3c0c40"/>
<rect x="1314.4" y="805.0" width="26" height="26" fill="#a82438"/>
<rect x="1316.4" y="806.0" width="22" height="24" fill="#c85058" stroke="#a09090" stroke-width="0.8"/>
<rect x="1353.1" y="765.2" width="31" height="31" fill="#3c0c40"/>
<rect x="1355.6" y="767.7" width="26" height="26" fill="#a82438"/>
<rect x="1357.6" y="768.7" width="22" height="24" fill="#c85058" stroke="#a09090" stroke-width="0.8"/>
<rect x="1353.1" y="802.5" width="31" height="31" fill="#3c0c40"/>
<rect x="1355.6" y="805.0" width="26" height="26" fill="#a82438"/>
<rect x="1357.6" y="806.0" width="22" height="24" fill="#c85058" stroke="#a09090" stroke-width="0.8"/>
<rect x="1243.5" y="856.2" width="45" height="41" fill="#3c0c40"/>
<rect x="1246.0" y="858.7" width="40" height="36" fill="#a82438"/>
<rect x="1303.8" y="856.2" width="45" height="41" fill="#3c0c40"/>
<rect x="1306.3" y="858.7" width="40" height="36" fill="#a82438"/>
<rect x="1243.5" y="917.0" width="45" height="36" fill="#3c0c40"/>
<rect x="1246.0" y="919.5" width="40" height="31" fill="#a82438"/>
<rect x="1303.8" y="917.0" width="45" height="36" fill="#3c0c40"/>
<rect x="1306.3" y="919.5" width="40" height="31" fill="#a82438"/>
<polyline points="1330,54 1156,228 1156,747 1176,767 1226,767 1244,749 1244,275 1400,119 1460,59" stroke="#800000" stroke-width="20" fill="none" stroke-linejoin="round" opacity="0.55"/>
<polyline points="1008.0,60.0 1008.0,171.0 1216.0,171.0 1216.0,150.5 1195.5,150.5 1195.5,60.0" stroke="#ffff00" stroke-width="9.5" fill="none" stroke-linecap="round" stroke-linejoin="round" />
<circle cx="1042" cy="90.3" r="22.8" fill="none" stroke="#ffff00" stroke-width="8.8"/>
<rect x="1019" y="86" width="46" height="8.7" fill="#ffff00" />
<circle cx="1111.2" cy="76" r="32" fill="#b3628f" stroke="#8a1a9a" stroke-width="2.6"/>
<circle cx="1111" cy="72.8" r="15.3" fill="#5e7e9e" stroke="none" stroke-width="1"/>
<text x="1111" y="76" font-family="Liberation Sans" font-size="15" fill="#f5dfa0" text-anchor="middle">1</text>
<text x="1111" y="94.5" font-family="Liberation Sans" font-size="19" fill="#f5dfa0" text-anchor="middle" transform="translate(1111 0) scale(0.85 1) translate(-1111 0)">3.3V</text>
<line x1="1065" y1="122" x2="1123" y2="64" stroke="#8b0000" stroke-width="1.5" stroke-linecap="butt"/>
<line x1="1099" y1="64" x2="1157" y2="122" stroke="#8b0000" stroke-width="1.5" stroke-linecap="butt"/>
<line x1="1007" y1="86" x2="1032" y2="64" stroke="#009000" stroke-width="1.3" stroke-linecap="butt"/>
<line x1="1040" y1="64" x2="1073" y2="96" stroke="#009000" stroke-width="1.3" stroke-linecap="butt"/>
<circle cx="1893" cy="66" r="85" fill="#800080" stroke="none" stroke-width="1"/>
<circle cx="1893" cy="66" r="72" fill="none" stroke="#ff0000" stroke-width="11"/>
<circle cx="1893" cy="40" r="30" fill="none" stroke="#a0106a" stroke-width="10"/>
<circle cx="1036" cy="165.3" r="14.5" fill="#000" stroke="#a00018" stroke-width="1.3"/>
<circle cx="1036" cy="165.3" r="11" fill="none" stroke="#ff2060" stroke-width="1.5"/>
<circle cx="1036" cy="165.3" r="5" fill="none" stroke="#a07000" stroke-width="1.3"/>
<circle cx="1036" cy="272" r="14.5" fill="#000" stroke="#a00018" stroke-width="1.3"/>
<circle cx="1036" cy="272" r="11" fill="none" stroke="#ff2060" stroke-width="1.5"/>
<circle cx="1036" cy="272" r="5" fill="none" stroke="#a07000" stroke-width="1.3"/>
<circle cx="1036" cy="379.7" r="14.5" fill="#000" stroke="#a00018" stroke-width="1.3"/>
<circle cx="1036" cy="379.7" r="11" fill="none" stroke="#ff2060" stroke-width="1.5"/>
<circle cx="1036" cy="379.7" r="5" fill="none" stroke="#a07000" stroke-width="1.3"/>
<circle cx="1036" cy="486" r="14.5" fill="#000" stroke="#a00018" stroke-width="1.3"/>
<circle cx="1036" cy="486" r="11" fill="none" stroke="#ff2060" stroke-width="1.5"/>
<circle cx="1036" cy="486" r="5" fill="none" stroke="#a07000" stroke-width="1.3"/>
<circle cx="1036" cy="593.4" r="14.5" fill="#000" stroke="#a00018" stroke-width="1.3"/>
<circle cx="1036" cy="593.4" r="11" fill="none" stroke="#ff2060" stroke-width="1.5"/>
<circle cx="1036" cy="593.4" r="5" fill="none" stroke="#a07000" stroke-width="1.3"/>
<circle cx="1036" cy="699.8" r="14.5" fill="#000" stroke="#a00018" stroke-width="1.3"/>
<circle cx="1036" cy="699.8" r="11" fill="none" stroke="#ff2060" stroke-width="1.5"/>
<circle cx="1036" cy="699.8" r="5" fill="none" stroke="#a07000" stroke-width="1.3"/>
<circle cx="1036" cy="807" r="14.5" fill="#000" stroke="#a00018" stroke-width="1.3"/>
<circle cx="1036" cy="807" r="11" fill="none" stroke="#ff2060" stroke-width="1.5"/>
<circle cx="1036" cy="807" r="5" fill="none" stroke="#a07000" stroke-width="1.3"/>
<circle cx="1036" cy="913.5" r="14.5" fill="#000" stroke="#a00018" stroke-width="1.3"/>
<circle cx="1036" cy="913.5" r="11" fill="none" stroke="#ff2060" stroke-width="1.5"/>
<circle cx="1036" cy="913.5" r="5" fill="none" stroke="#a07000" stroke-width="1.3"/>
<circle cx="1154" cy="816" r="14.5" fill="#000" stroke="#a00018" stroke-width="1.3"/>
<circle cx="1154" cy="816" r="11" fill="none" stroke="#ff2060" stroke-width="1.5"/>
<circle cx="1154" cy="816" r="5" fill="none" stroke="#a07000" stroke-width="1.3"/>
<circle cx="1217.5" cy="88" r="14.5" fill="#000" stroke="#a00018" stroke-width="1.3"/>
<circle cx="1217.5" cy="88" r="11" fill="none" stroke="#ff2060" stroke-width="1.5"/>
<circle cx="1217.5" cy="88" r="5" fill="none" stroke="#a07000" stroke-width="1.3"/>
<polyline points="1298.4,122.0 1298.4,154.0 1341.0,154.0 1341.0,122.0" stroke="#ffff00" stroke-width="5.5" fill="none" stroke-linecap="round" stroke-linejoin="round" />
<line x1="1298.4" y1="122" x2="1298.4" y2="154" stroke="#ffff00" stroke-width="5.5" stroke-linecap="round"/>
<line x1="1298.4" y1="100" x2="1298.4" y2="107" stroke="#ffff00" stroke-width="5.5" stroke-linecap="round"/>
<line x1="1341" y1="122" x2="1341" y2="154" stroke="#ffff00" stroke-width="5.5" stroke-linecap="round"/>
<line x1="1341" y1="100" x2="1341" y2="107" stroke="#ffff00" stroke-width="5.5" stroke-linecap="round"/>
<polyline points="1363.0,122.0 1363.0,154.0 1446.4,154.0 1446.4,122.0" stroke="#ffff00" stroke-width="5.5" fill="none" stroke-linecap="round" stroke-linejoin="round" />
<line x1="1363" y1="122" x2="1363" y2="154" stroke="#ffff00" stroke-width="5.5" stroke-linecap="round"/>
<line x1="1363" y1="100" x2="1363" y2="107" stroke="#ffff00" stroke-width="5.5" stroke-linecap="round"/>
<line x1="1404.7" y1="122" x2="1404.7" y2="154" stroke="#ffff00" stroke-width="5.5" stroke-linecap="round"/>
<line x1="1404.7" y1="100" x2="1404.7" y2="107" stroke="#ffff00" stroke-width="5.5" stroke-linecap="round"/>
<line x1="1446.4" y1="122" x2="1446.4" y2="154" stroke="#ffff00" stroke-width="5.5" stroke-linecap="round"/>
<line x1="1446.4" y1="100" x2="1446.4" y2="107" stroke="#ffff00" stroke-width="5.5" stroke-linecap="round"/>
<polyline points="1294.0,160.5 1260.0,160.5 1260.0,203.0 1294.0,203.0" stroke="#ffff00" stroke-width="5.5" fill="none" stroke-linecap="round" stroke-linejoin="round" />
<polyline points="1310.4,160.5 1342.0,160.5 1342.0,203.0 1310.4,203.0" stroke="#ffff00" stroke-width="5.5" fill="none" stroke-linecap="round" stroke-linejoin="round" />
<polyline points="1398.0,160.5 1363.0,160.5 1363.0,203.0 1398.0,203.0" stroke="#ffff00" stroke-width="5.5" fill="none" stroke-linecap="round" stroke-linejoin="round" />
<polyline points="1412.0,160.5 1449.0,160.5 1449.0,203.0 1412.0,203.0" stroke="#ffff00" stroke-width="5.5" fill="none" stroke-linecap="round" stroke-linejoin="round" />
<path d="M1294 208.7 H1261 Q1251 208.7 1251 218.7 V242.6 Q1251 252.6 1261 252.6 H1294 M1310.4 208.7 H1341 Q1351 208.7 1351 218.7 V242.6 Q1351 252.6 1341 252.6 H1310.4" fill="none" stroke="#ffff00" stroke-width="5.5" stroke-linecap="round"/>
<path d="M1398 208.7 H1365.4 Q1355.4 208.7 1355.4 218.7 V242.6 Q1355.4 252.6 1365.4 252.6 H1398 M1412 208.7 H1446 Q1456 208.7 1456 218.7 V242.6 Q1456 252.6 1446 252.6 H1412" fill="none" stroke="#ffff00" stroke-width="5.5" stroke-linecap="round"/>
<rect x="1293" y="200" width="16" height="60" fill="none" />
<rect x="1397" y="200" width="16" height="60" fill="none" />
<circle cx="1241.4" cy="181.3" r="16.5" fill="none" stroke="#009000" stroke-width="1.3"/>
<circle cx="1241.4" cy="181.3" r="13" fill="#ff0000" stroke="#ff3080" stroke-width="1.5"/>
<circle cx="1241.4" cy="181.3" r="10" fill="#ff0000" stroke="#b07000" stroke-width="1.2"/>
<circle cx="1238" cy="230.7" r="16.5" fill="none" stroke="#009000" stroke-width="1.3"/>
<circle cx="1238" cy="230.7" r="13" fill="#ff0000" stroke="#ff3080" stroke-width="1.5"/>
<circle cx="1238" cy="230.7" r="10" fill="#ff0000" stroke="#b07000" stroke-width="1.2"/>
<line x1="1226" y1="160" x2="1283" y2="103" stroke="#8b0000" stroke-width="1.3"/>
<rect x="1289.6" y="64" width="59" height="3" fill="#ffff00" />
<rect x="1351" y="64" width="61" height="3" fill="#ffff00" />
<rect x="1547" y="100" width="10" height="126" fill="#ffff00" />
<rect x="1547" y="214" width="15" height="12" fill="#ffff00" />
<rect x="1618.8" y="100" width="10.2" height="126" fill="#ffff00" />
<rect x="1613" y="214" width="16" height="12" fill="#ffff00" />
<rect x="1547" y="100" width="15" height="7" fill="#ffff00" />
<rect x="1613" y="100" width="16" height="7" fill="#ffff00" />
<line x1="1588" y1="137.5" x2="1588" y2="202" stroke="#ffff00" stroke-width="9" stroke-linecap="round"/>
<line x1="1562" y1="157.2" x2="1614" y2="157.2" stroke="#ffff00" stroke-width="9" stroke-linecap="round"/>
<polygon points="1588,162 1609,185 1567,185" fill="#ffff00" stroke="#ffff00" stroke-width="6" stroke-linejoin="round"/>
<circle cx="1688" cy="195.6" r="14.5" fill="#000" stroke="#a00018" stroke-width="1.3"/>
<circle cx="1688" cy="195.6" r="11" fill="none" stroke="#ff2060" stroke-width="1.5"/>
<circle cx="1688" cy="195.6" r="5" fill="none" stroke="#a07000" stroke-width="1.3"/>
<circle cx="1528.3" cy="275.6" r="14.5" fill="#000" stroke="#a00018" stroke-width="1.3"/>
<circle cx="1528.3" cy="275.6" r="11" fill="none" stroke="#ff2060" stroke-width="1.5"/>
<circle cx="1528.3" cy="275.6" r="5" fill="none" stroke="#a07000" stroke-width="1.3"/>
<polyline points="1774.5,304.0 1774.5,260.0 1850.0,260.0" stroke="#ffff00" stroke-width="7" fill="none" stroke-linecap="round" stroke-linejoin="round" />
<polyline points="1774.5,344.6 1774.5,389.0 1848.0,389.0" stroke="#ffff00" stroke-width="7" fill="none" stroke-linecap="round" stroke-linejoin="round" />
<line x1="1847.5" y1="304" x2="1847.5" y2="345.7" stroke="#ffff00" stroke-width="7" stroke-linecap="round"/>
<path d="M1550 294.8 H1515 Q1499.5 294.8 1499.5 310.3 V338.3 Q1499.5 353.8 1515 353.8 H1550" fill="none" stroke="#ffff00" stroke-width="8.8" stroke-linecap="round"/>
<path d="M1566 294.8 H1602 Q1617.5 294.8 1617.5 310.3 V338.3 Q1617.5 353.8 1602 353.8 H1566" fill="none" stroke="#ffff00" stroke-width="8.8" stroke-linecap="round"/>
<path d="M1550 559.5 H1515 Q1499.5 559.5 1499.5 575 V603 Q1499.5 618.5 1515 618.5 H1550" fill="none" stroke="#ffff00" stroke-width="8.8" stroke-linecap="round"/>
<path d="M1566 559.5 H1602 Q1617.5 559.5 1617.5 575 V603 Q1617.5 618.5 1602 618.5 H1566" fill="none" stroke="#ffff00" stroke-width="8.8" stroke-linecap="round"/>
<polyline points="1658.0,302.8 1630.5,302.8 1630.5,345.8 1658.0,345.8" stroke="#ffff00" stroke-width="5.5" fill="none" stroke-linecap="round" stroke-linejoin="round" />
<polyline points="1682.0,302.8 1709.0,302.8 1709.0,345.8 1682.0,345.8" stroke="#ffff00" stroke-width="5.5" fill="none" stroke-linecap="round" stroke-linejoin="round" />
<polyline points="1658.0,567.5 1630.5,567.5 1630.5,610.5 1658.0,610.5" stroke="#ffff00" stroke-width="5.5" fill="none" stroke-linecap="round" stroke-linejoin="round" />
<polyline points="1682.0,567.5 1709.0,567.5 1709.0,610.5 1682.0,610.5" stroke="#ffff00" stroke-width="5.5" fill="none" stroke-linecap="round" stroke-linejoin="round" />
<circle cx="1587.5" cy="410.4" r="27.7" fill="#48104a" stroke="#ffff00" stroke-width="6.6"/>
<circle cx="1587.5" cy="410.4" r="21" fill="#a82438" stroke="none" stroke-width="1"/>
<circle cx="1587.5" cy="504.6" r="27.7" fill="#48104a" stroke="#ffff00" stroke-width="6.6"/>
<circle cx="1587.5" cy="504.6" r="21" fill="#a82438" stroke="none" stroke-width="1"/>
<circle cx="1481.2" cy="324.9" r="14.5" fill="#000" stroke="#a00018" stroke-width="1.3"/>
<circle cx="1481.2" cy="324.9" r="11" fill="none" stroke="#ff2060" stroke-width="1.5"/>
<circle cx="1481.2" cy="324.9" r="5" fill="none" stroke="#a07000" stroke-width="1.3"/>
<circle cx="1528.3" cy="373" r="14.5" fill="#000" stroke="#a00018" stroke-width="1.3"/>
<circle cx="1528.3" cy="373" r="11" fill="none" stroke="#ff2060" stroke-width="1.5"/>
<circle cx="1528.3" cy="373" r="5" fill="none" stroke="#a07000" stroke-width="1.3"/>
<circle cx="1623.7" cy="373" r="14.5" fill="#000" stroke="#a00018" stroke-width="1.3"/>
<circle cx="1623.7" cy="373" r="11" fill="none" stroke="#ff2060" stroke-width="1.5"/>
<circle cx="1623.7" cy="373" r="5" fill="none" stroke="#a07000" stroke-width="1.3"/>
<circle cx="1672.8" cy="407" r="14.5" fill="#000" stroke="#a00018" stroke-width="1.3"/>
<circle cx="1672.8" cy="407" r="11" fill="none" stroke="#ff2060" stroke-width="1.5"/>
<circle cx="1672.8" cy="407" r="5" fill="none" stroke="#a07000" stroke-width="1.3"/>
<circle cx="1780" cy="407" r="14.5" fill="#000" stroke="#a00018" stroke-width="1.3"/>
<circle cx="1780" cy="407" r="11" fill="none" stroke="#ff2060" stroke-width="1.5"/>
<circle cx="1780" cy="407" r="5" fill="none" stroke="#a07000" stroke-width="1.3"/>
<circle cx="1672.8" cy="506.8" r="14.5" fill="#000" stroke="#a00018" stroke-width="1.3"/>
<circle cx="1672.8" cy="506.8" r="11" fill="none" stroke="#ff2060" stroke-width="1.5"/>
<circle cx="1672.8" cy="506.8" r="5" fill="none" stroke="#a07000" stroke-width="1.3"/>
<circle cx="1780" cy="506.8" r="14.5" fill="#000" stroke="#a00018" stroke-width="1.3"/>
<circle cx="1780" cy="506.8" r="11" fill="none" stroke="#ff2060" stroke-width="1.5"/>
<circle cx="1780" cy="506.8" r="5" fill="none" stroke="#a07000" stroke-width="1.3"/>
<circle cx="1476.8" cy="589" r="14.5" fill="#000" stroke="#a00018" stroke-width="1.3"/>
<circle cx="1476.8" cy="589" r="11" fill="none" stroke="#ff2060" stroke-width="1.5"/>
<circle cx="1476.8" cy="589" r="5" fill="none" stroke="#a07000" stroke-width="1.3"/>
<circle cx="1528.3" cy="540.8" r="14.5" fill="#000" stroke="#a00018" stroke-width="1.3"/>
<circle cx="1528.3" cy="540.8" r="11" fill="none" stroke="#ff2060" stroke-width="1.5"/>
<circle cx="1528.3" cy="540.8" r="5" fill="none" stroke="#a07000" stroke-width="1.3"/>
<circle cx="1623.7" cy="540.8" r="14.5" fill="#000" stroke="#a00018" stroke-width="1.3"/>
<circle cx="1623.7" cy="540.8" r="11" fill="none" stroke="#ff2060" stroke-width="1.5"/>
<circle cx="1623.7" cy="540.8" r="5" fill="none" stroke="#a07000" stroke-width="1.3"/>
<circle cx="1528.3" cy="636" r="14.5" fill="#000" stroke="#a00018" stroke-width="1.3"/>
<circle cx="1528.3" cy="636" r="11" fill="none" stroke="#ff2060" stroke-width="1.5"/>
<circle cx="1528.3" cy="636" r="5" fill="none" stroke="#a07000" stroke-width="1.3"/>
<circle cx="1476.8" cy="635" r="14.5" fill="#000" stroke="#a00018" stroke-width="1.3"/>
<circle cx="1476.8" cy="635" r="11" fill="none" stroke="#ff2060" stroke-width="1.5"/>
<circle cx="1476.8" cy="635" r="5" fill="none" stroke="#a07000" stroke-width="1.3"/>
<circle cx="1528.3" cy="683.3" r="14.5" fill="#000" stroke="#a00018" stroke-width="1.3"/>
<circle cx="1528.3" cy="683.3" r="11" fill="none" stroke="#ff2060" stroke-width="1.5"/>
<circle cx="1528.3" cy="683.3" r="5" fill="none" stroke="#a07000" stroke-width="1.3"/>
<circle cx="1688" cy="707.4" r="14.5" fill="#000" stroke="#a00018" stroke-width="1.3"/>
<circle cx="1688" cy="707.4" r="11" fill="none" stroke="#ff2060" stroke-width="1.5"/>
<circle cx="1688" cy="707.4" r="5" fill="none" stroke="#a07000" stroke-width="1.3"/>
<circle cx="1816.4" cy="707.4" r="14.5" fill="#000" stroke="#a00018" stroke-width="1.3"/>
<circle cx="1816.4" cy="707.4" r="11" fill="none" stroke="#ff2060" stroke-width="1.5"/>
<circle cx="1816.4" cy="707.4" r="5" fill="none" stroke="#a07000" stroke-width="1.3"/>
<circle cx="1688" cy="836.7" r="14.5" fill="#000" stroke="#a00018" stroke-width="1.3"/>
<circle cx="1688" cy="836.7" r="11" fill="none" stroke="#ff2060" stroke-width="1.5"/>
<circle cx="1688" cy="836.7" r="5" fill="none" stroke="#a07000" stroke-width="1.3"/>
<circle cx="1816.4" cy="836.7" r="14.5" fill="#000" stroke="#a00018" stroke-width="1.3"/>
<circle cx="1816.4" cy="836.7" r="11" fill="none" stroke="#ff2060" stroke-width="1.5"/>
<circle cx="1816.4" cy="836.7" r="5" fill="none" stroke="#a07000" stroke-width="1.3"/>
<polyline points="1774.5,569.0 1774.5,525.0 1850.0,525.0" stroke="#ffff00" stroke-width="7" fill="none" stroke-linecap="round" stroke-linejoin="round" />
<polyline points="1774.5,608.7 1774.5,654.0 1848.0,654.0" stroke="#ffff00" stroke-width="7" fill="none" stroke-linecap="round" stroke-linejoin="round" />
<line x1="1847.5" y1="568" x2="1847.5" y2="611" stroke="#ffff00" stroke-width="7" stroke-linecap="round"/>
<line x1="1587.5" y1="712" x2="1587.5" y2="773" stroke="#ffff00" stroke-width="9" stroke-linecap="round"/>
<line x1="1562" y1="756.7" x2="1614" y2="756.7" stroke="#ffff00" stroke-width="9" stroke-linecap="round"/>
<polygon points="1569,731 1606,731 1588,750" fill="#ffff00" stroke="#ffff00" stroke-width="6" stroke-linejoin="round"/>
<circle cx="1472.4" cy="773" r="16.5" fill="none" stroke="#009000" stroke-width="1.3"/>
<circle cx="1472.4" cy="773" r="13" fill="#ff0000" stroke="#ff3080" stroke-width="1.5"/>
<circle cx="1472.4" cy="773" r="10" fill="#ff0000" stroke="#b07000" stroke-width="1.2"/>
<circle cx="1514" cy="732.5" r="16.5" fill="none" stroke="#009000" stroke-width="1.3"/>
<circle cx="1514" cy="732.5" r="13" fill="#ff0000" stroke="#ff3080" stroke-width="1.5"/>
<circle cx="1514" cy="732.5" r="10" fill="#ff0000" stroke="#b07000" stroke-width="1.2"/>
<rect x="1258" y="294" width="26" height="87" rx="13" fill="#a82438" stroke="#8a50a0" stroke-width="2"/>
<rect x="1258" y="527.6" width="26" height="87" rx="13" fill="#a82438" stroke="#8a50a0" stroke-width="2"/>
<rect x="1311.7" y="294" width="26" height="87" rx="13" fill="#a82438" stroke="#8a50a0" stroke-width="2"/>
<rect x="1311.7" y="527.6" width="26" height="87" rx="13" fill="#a82438" stroke="#8a50a0" stroke-width="2"/>
<rect x="1365.4" y="294" width="26" height="87" rx="13" fill="#a82438" stroke="#8a50a0" stroke-width="2"/>
<rect x="1365.4" y="527.6" width="26" height="87" rx="13" fill="#a82438" stroke="#8a50a0" stroke-width="2"/>
<rect x="1419" y="294" width="26" height="87" rx="13" fill="#a82438" stroke="#8a50a0" stroke-width="2"/>
<rect x="1419" y="527.6" width="26" height="87" rx="13" fill="#a82438" stroke="#8a50a0" stroke-width="2"/>
<circle cx="1271" cy="407" r="14.5" fill="#000" stroke="#a00018" stroke-width="1.3"/>
<circle cx="1271" cy="407" r="11" fill="none" stroke="#ff2060" stroke-width="1.5"/>
<circle cx="1271" cy="407" r="5" fill="none" stroke="#a07000" stroke-width="1.3"/>
<rect x="1245" y="391" width="212.7" height="127" fill="none" stroke="#ffff00" stroke-width="5.5"/>
<circle cx="1462.5" cy="338" r="12" fill="#ffff00" stroke="none" stroke-width="1"/>
<circle cx="1431.5" cy="422.4" r="12" fill="#ffff00" stroke="none" stroke-width="1"/>
<rect x="1314.8" y="300.7" width="131" height="70.3" fill="none" stroke="#ff4040" stroke-width="2" stroke-dasharray="8 8"/>
<rect x="1260.6" y="536.4" width="185" height="69.6" fill="none" stroke="#ff4040" stroke-width="2" stroke-dasharray="8 8"/>
<circle cx="1183.5" cy="683.3" r="16.5" fill="none" stroke="#009000" stroke-width="1.3"/>
<circle cx="1183.5" cy="683.3" r="13" fill="#ff0000" stroke="#ff3080" stroke-width="1.5"/>
<circle cx="1183.5" cy="683.3" r="10" fill="#ff0000" stroke="#b07000" stroke-width="1.2"/>
<circle cx="1188" cy="731.4" r="16.5" fill="none" stroke="#009000" stroke-width="1.3"/>
<circle cx="1188" cy="731.4" r="13" fill="#ff0000" stroke="#ff3080" stroke-width="1.5"/>
<circle cx="1188" cy="731.4" r="10" fill="#ff0000" stroke="#b07000" stroke-width="1.2"/>
<path d="M1241.4 662.5 H1207.8 Q1197.8 662.5 1197.8 672.5 V694 Q1197.8 704 1207.8 704 H1241.4 M1255.6 662.5 H1288.4 Q1298.4 662.5 1298.4 672.5 V694 Q1298.4 704 1288.4 704 H1255.6" fill="none" stroke="#ffff00" stroke-width="5.5" stroke-linecap="round"/>
<path d="M1340 662.5 H1310.6 Q1300.6 662.5 1300.6 672.5 V694 Q1300.6 704 1310.6 704 H1340 M1355.4 662.5 H1388 Q1398 662.5 1398 672.5 V694 Q1398 704 1388 704 H1355.4" fill="none" stroke="#ffff00" stroke-width="5.5" stroke-linecap="round"/>
<path d="M1450 662.5 H1413.6 Q1403.6 662.5 1403.6 672.5 V694 Q1403.6 704 1413.6 704 H1450 M1462 662.5 H1490 Q1500 662.5 1500 672.5 V694 Q1500 704 1490 704 H1462" fill="none" stroke="#ffff00" stroke-width="5.5" stroke-linecap="round"/>
<polyline points="1241.0,711.0 1207.0,711.0 1207.0,753.5 1241.0,753.5" stroke="#ffff00" stroke-width="5.5" fill="none" stroke-linecap="round" stroke-linejoin="round" />
<polyline points="1255.0,711.0 1288.0,711.0 1288.0,753.5 1255.0,753.5" stroke="#ffff00" stroke-width="5.5" fill="none" stroke-linecap="round" stroke-linejoin="round" />
<polyline points="1340.0,711.0 1306.0,711.0 1306.0,753.5 1340.0,753.5" stroke="#ffff00" stroke-width="5.5" fill="none" stroke-linecap="round" stroke-linejoin="round" />
<polyline points="1355.0,711.0 1388.0,711.0 1388.0,753.5 1355.0,753.5" stroke="#ffff00" stroke-width="5.5" fill="none" stroke-linecap="round" stroke-linejoin="round" />
<polyline points="1448.0,711.0 1413.6,711.0 1413.6,753.5 1448.0,753.5" stroke="#ffff00" stroke-width="5.5" fill="none" stroke-linecap="round" stroke-linejoin="round" />
<polyline points="1462.0,711.0 1500.0,711.0 1500.0,753.5 1462.0,753.5" stroke="#ffff00" stroke-width="5.5" fill="none" stroke-linecap="round" stroke-linejoin="round" />
<polyline points="1246.0,795.0 1246.0,760.0 1287.0,760.0 1287.0,795.0" stroke="#ffff00" stroke-width="5.5" fill="none" stroke-linecap="round" stroke-linejoin="round" />
<polyline points="1304.0,795.0 1304.0,760.0 1389.0,760.0 1389.0,795.0" stroke="#ffff00" stroke-width="5.5" fill="none" stroke-linecap="round" stroke-linejoin="round" />
<line x1="1346" y1="760" x2="1346" y2="795" stroke="#ffff00" stroke-width="5.5" stroke-linecap="round"/>
<polyline points="1246.0,808.0 1246.0,839.0 1287.0,839.0 1287.0,808.0" stroke="#ffff00" stroke-width="5.5" fill="none" stroke-linecap="round" stroke-linejoin="round" />
<polyline points="1304.0,808.0 1304.0,839.0 1389.0,839.0 1389.0,808.0" stroke="#ffff00" stroke-width="5.5" fill="none" stroke-linecap="round" stroke-linejoin="round" />
<line x1="1346" y1="808" x2="1346" y2="839" stroke="#ffff00" stroke-width="5.5" stroke-linecap="round"/>
<path d="M1237 897 V866 Q1237 849.7 1266.5 849.7 Q1296.5 849.7 1296.5 866 V897 M1296.5 866 Q1296.5 849.7 1326.5 849.7 Q1356 849.7 1356 866 V897" fill="none" stroke="#ffff00" stroke-width="9.5" stroke-linecap="round"/>
<line x1="1237" y1="920" x2="1237" y2="940" stroke="#ffff00" stroke-width="9.5" stroke-linecap="round"/>
<line x1="1296.5" y1="920" x2="1296.5" y2="940" stroke="#ffff00" stroke-width="9.5" stroke-linecap="round"/>
<line x1="1356" y1="920" x2="1356" y2="940" stroke="#ffff00" stroke-width="9.5" stroke-linecap="round"/>
<polyline points="1801.5,858.0 1848.0,858.0" stroke="#ffff00" stroke-width="8.8" fill="none" stroke-linecap="round" stroke-linejoin="round" />
<polyline points="1823.0,848.0 1823.0,881.0" stroke="#ffff00" stroke-width="8.8" fill="none" stroke-linecap="round" stroke-linejoin="round" />
<polyline points="1803.0,860.0 1823.0,881.0" stroke="#ffff00" stroke-width="8.8" fill="none" stroke-linecap="round" stroke-linejoin="round" />
<polyline points="1803.0,922.0 1803.0,893.0 1834.0,922.0 1846.0,922.0" stroke="#ffff00" stroke-width="8.8" fill="none" stroke-linecap="round" stroke-linejoin="round" />
<polyline points="1866.0,851.0 1878.0,870.0 1882.0,874.0" stroke="#ffff00" stroke-width="8.8" fill="none" stroke-linecap="round" stroke-linejoin="round" />
<polyline points="1866.0,893.0 1878.0,912.0 1882.0,916.0" stroke="#ffff00" stroke-width="8.8" fill="none" stroke-linecap="round" stroke-linejoin="round" />
<line x1="1241.4" y1="181.3" x2="1283" y2="182" stroke="#ff0000" stroke-width="19" stroke-linecap="round"/>
<line x1="1238" y1="230.7" x2="1279" y2="230.7" stroke="#ff0000" stroke-width="19" stroke-linecap="round"/>
<polyline points="1320.5,132.0 1320.5,262.0 1325.0,280.0 1325.0,338.0" stroke="#ff0000" stroke-width="11" fill="none" stroke-linecap="round" stroke-linejoin="round" />
<polyline points="1384.0,132.0 1384.0,262.0 1378.4,280.0 1378.4,338.0" stroke="#ff0000" stroke-width="11" fill="none" stroke-linecap="round" stroke-linejoin="round" />
<polyline points="1425.0,132.0 1425.0,262.0 1432.0,280.0 1432.0,338.0" stroke="#ff0000" stroke-width="11" fill="none" stroke-linecap="round" stroke-linejoin="round" />
<line x1="1449" y1="101" x2="1609" y2="101" stroke="#ff0000" stroke-width="3" stroke-linecap="butt"/>
<line x1="1587.5" y1="237" x2="1587.5" y2="410" stroke="#ff0000" stroke-width="9" stroke-linecap="round"/>
<line x1="1858" y1="285" x2="1882" y2="285" stroke="#ff0000" stroke-width="9" stroke-linecap="round"/>
<line x1="1858" y1="365" x2="1882" y2="365" stroke="#ff0000" stroke-width="9" stroke-linecap="round"/>
<line x1="1481" y1="324.3" x2="1655.5" y2="324.3" stroke="#ff0000" stroke-width="9" stroke-linecap="round"/>
<line x1="1686" y1="324.3" x2="1768" y2="324.3" stroke="#ff0000" stroke-width="14" stroke-linecap="round"/>
<line x1="1481" y1="589" x2="1655.5" y2="589" stroke="#ff0000" stroke-width="9" stroke-linecap="round"/>
<line x1="1686" y1="589" x2="1768" y2="589" stroke="#ff0000" stroke-width="14" stroke-linecap="round"/>
<line x1="1528.3" y1="281" x2="1528.3" y2="373" stroke="#ff0000" stroke-width="9" stroke-linecap="round"/>
<line x1="1528.3" y1="540.8" x2="1528.3" y2="636" stroke="#ff0000" stroke-width="9" stroke-linecap="round"/>
<polyline points="1587.5,410.0 1617.0,440.0 1882.0,440.0" stroke="#ff0000" stroke-width="9" fill="none" stroke-linecap="round" stroke-linejoin="round" />
<polyline points="1587.5,504.6 1618.0,474.0 1882.0,474.0" stroke="#ff0000" stroke-width="9" fill="none" stroke-linecap="round" stroke-linejoin="round" />
<polyline points="1623.7,373.0 1658.0,407.0 1882.0,407.0" stroke="#ff0000" stroke-width="9" fill="none" stroke-linecap="round" stroke-linejoin="round" />
<polyline points="1623.7,540.8 1658.0,507.0 1882.0,507.0" stroke="#ff0000" stroke-width="9" fill="none" stroke-linecap="round" stroke-linejoin="round" />
<line x1="1587.5" y1="504" x2="1587.5" y2="671" stroke="#ff0000" stroke-width="9" stroke-linecap="round"/>
<line x1="1858" y1="549" x2="1882" y2="549" stroke="#ff0000" stroke-width="9" stroke-linecap="round"/>
<line x1="1858" y1="629.5" x2="1882" y2="629.5" stroke="#ff0000" stroke-width="9" stroke-linecap="round"/>
<line x1="1445" y1="818" x2="1590" y2="818" stroke="#ff0000" stroke-width="11" stroke-linecap="butt"/>
<polyline points="1476.8,635.0 1476.8,682.0 1528.3,683.0" stroke="#ff0000" stroke-width="9" fill="none" stroke-linecap="round" stroke-linejoin="round" />
<polyline points="1472.4,773.0 1472.4,732.5 1514.0,732.5" stroke="#ff0000" stroke-width="19" fill="none" stroke-linecap="round" stroke-linejoin="round" />
<polyline points="1271.0,333.6 1271.0,407.0" stroke="#ff0000" stroke-width="11" fill="none" stroke-linecap="round" stroke-linejoin="round" />
<line x1="1271" y1="568" x2="1271" y2="640" stroke="#ff0000" stroke-width="11" stroke-linecap="round"/>
<line x1="1324.7" y1="568" x2="1324.7" y2="640" stroke="#ff0000" stroke-width="11" stroke-linecap="round"/>
<line x1="1378.4" y1="568" x2="1378.4" y2="640" stroke="#ff0000" stroke-width="11" stroke-linecap="round"/>
<line x1="1432" y1="568" x2="1432" y2="640" stroke="#ff0000" stroke-width="11" stroke-linecap="round"/>
<line x1="1183.5" y1="683.3" x2="1235" y2="683.3" stroke="#ff0000" stroke-width="19" stroke-linecap="round"/>
<line x1="1188" y1="731.4" x2="1240" y2="731.4" stroke="#ff0000" stroke-width="19" stroke-linecap="round"/>
<polyline points="1271.0,640.0 1271.0,682.0 1266.5,692.0 1266.5,780.0" stroke="#ff0000" stroke-width="11" fill="none" stroke-linecap="round" stroke-linejoin="round" />
<polyline points="1324.7,640.0 1324.7,684.0 1327.4,692.0 1327.4,780.0" stroke="#ff0000" stroke-width="11" fill="none" stroke-linecap="round" stroke-linejoin="round" />
<polyline points="1378.4,640.0 1378.4,680.0 1368.6,692.0 1368.6,780.0" stroke="#ff0000" stroke-width="11" fill="none" stroke-linecap="round" stroke-linejoin="round" />
<polyline points="1432.0,640.0 1432.0,731.0" stroke="#ff0000" stroke-width="11" fill="none" stroke-linecap="round" stroke-linejoin="round" />
<line x1="1266.5" y1="818" x2="1266.5" y2="877" stroke="#ff0000" stroke-width="11" stroke-linecap="round"/>
<line x1="1327.4" y1="818" x2="1327.4" y2="877" stroke="#ff0000" stroke-width="11" stroke-linecap="round"/>
<line x1="1368.6" y1="818" x2="1445" y2="818" stroke="#ff0000" stroke-width="11" stroke-linecap="round"/>
<line x1="1266.5" y1="856" x2="1266.5" y2="877" stroke="#ff0000" stroke-width="11" stroke-linecap="round"/>
<line x1="1327.4" y1="856" x2="1327.4" y2="877" stroke="#ff0000" stroke-width="11" stroke-linecap="round"/>
<text font-family="Liberation Sans" font-size="13" fill="#f0c0c0" transform="translate(1600 118) rotate(-90)">Net</text>
<text font-family="Liberation Sans" font-size="13" fill="#f0c0c0" transform="translate(1591 252) rotate(-90)">2</text>
<text font-family="Liberation Sans" font-size="13" fill="#f0c0c0" transform="translate(1605 260) rotate(-90)">Signal_1</text>
<text font-family="Liberation Sans" font-size="12" fill="#f0d0d0" text-anchor="middle" transform="translate(1529 324.3) rotate(-90)"><tspan x="0" dy="-2">2</tspan><tspan x="0" dy="13">GND</tspan></text>
<text font-family="Liberation Sans" font-size="12" fill="#f0d0d0" text-anchor="middle" transform="translate(1588 324.3) rotate(-90)"><tspan x="0" dy="-2">1</tspan><tspan x="0" dy="13">Signal_1</tspan></text>
<text font-family="Liberation Sans" font-size="12" fill="#f0d0d0" text-anchor="middle" transform="translate(1529 589) rotate(-90)"><tspan x="0" dy="-2">2</tspan><tspan x="0" dy="13">GND</tspan></text>
<text font-family="Liberation Sans" font-size="12" fill="#f0d0d0" text-anchor="middle" transform="translate(1588 589) rotate(-90)"><tspan x="0" dy="-2">1</tspan><tspan x="0" dy="13">Signal_4</tspan></text>
<text font-family="Liberation Sans" font-size="12" fill="#f0d0d0" text-anchor="middle" x="1589" y="409.4">1</text>
<text font-family="Liberation Sans" font-size="12" fill="#f0d0d0" x="1567" y="423.4" textLength="42" lengthAdjust="spacingAndGlyphs">Signal_1</text>
<text font-family="Liberation Sans" font-size="12" fill="#f0d0d0" text-anchor="middle" x="1589" y="503.6">1</text>
<text font-family="Liberation Sans" font-size="12" fill="#f0d0d0" x="1567" y="517.6" textLength="42" lengthAdjust="spacingAndGlyphs">Signal_4</text>
<text font-family="Liberation Sans" font-size="13" fill="#f0c0c0" text-anchor="middle" transform="translate(1588 675) rotate(-90)"><tspan x="0" dy="-2">2</tspan><tspan x="0" dy="14">Signal_4</tspan></text>
<text font-family="Liberation Sans" font-size="13" fill="#f0c0c0" text-anchor="middle" transform="translate(1588 818) rotate(-90)"><tspan x="0" dy="-2">1</tspan><tspan x="0" dy="14">NetD2_1</tspan></text>
<text font-family="Liberation Sans" font-size="11" fill="#f0d0d0" text-anchor="middle" x="1267" y="877">1</text><text font-family="Liberation Sans" font-size="11" fill="#f0d0d0" x="1247" y="889" textLength="40" lengthAdjust="spacingAndGlyphs">NetC32_1</text>
<text font-family="Liberation Sans" font-size="11" fill="#f0d0d0" text-anchor="middle" x="1327" y="877">2</text><text font-family="Liberation Sans" font-size="11" fill="#f0d0d0" x="1307" y="889" textLength="40" lengthAdjust="spacingAndGlyphs">NetC38_2</text>
<path d="M1000 129.3 L1072 201.3 M1000 201.3 L1072 129.3" stroke="#009000" stroke-width="1.3"/>
<path d="M1000 236 L1072 308 M1000 308 L1072 236" stroke="#009000" stroke-width="1.3"/>
<path d="M1000 343.7 L1072 415.7 M1000 415.7 L1072 343.7" stroke="#009000" stroke-width="1.3"/>
<path d="M1000 450 L1072 522 M1000 522 L1072 450" stroke="#009000" stroke-width="1.3"/>
<path d="M1000 557.4 L1072 629.4 M1000 629.4 L1072 557.4" stroke="#009000" stroke-width="1.3"/>
<path d="M1000 663.8 L1072 735.8 M1000 735.8 L1072 663.8" stroke="#009000" stroke-width="1.3"/>
<path d="M1000 771 L1072 843 M1000 843 L1072 771" stroke="#009000" stroke-width="1.3"/>
<path d="M1000 877.5 L1072 949.5 M1000 949.5 L1072 877.5" stroke="#009000" stroke-width="1.3"/>
<path d="M1118 780 L1190 852 M1118 852 L1190 780" stroke="#009000" stroke-width="1.3"/>
<path d="M1181.5 52 L1253.5 124 M1181.5 124 L1253.5 52" stroke="#009000" stroke-width="1.3"/>
<polyline points="1064.8,240.9 1064.8,200.8 1085.4,200.8 1090.6,208.0 1090.6,213.6 1085.4,220.8 1064.8,220.8" stroke="#ffff00" stroke-width="8.2" fill="none" stroke-linecap="round" stroke-linejoin="round" />
<polyline points="1079.0,220.8 1090.6,240.9" stroke="#ffff00" stroke-width="8.2" fill="none" stroke-linecap="round" stroke-linejoin="round" />
<polyline points="1108.7,208.8 1114.1,200.8 1114.1,240.9" stroke="#ffff00" stroke-width="8.2" fill="none" stroke-linecap="round" stroke-linejoin="round" />
<polyline points="1108.7,240.9 1119.5,240.9" stroke="#ffff00" stroke-width="8.2" fill="none" stroke-linecap="round" stroke-linejoin="round" />
<polyline points="1142.7,208.8 1148.1,200.8 1148.1,240.9" stroke="#ffff00" stroke-width="8.2" fill="none" stroke-linecap="round" stroke-linejoin="round" />
<polyline points="1142.7,240.9 1153.5,240.9" stroke="#ffff00" stroke-width="8.2" fill="none" stroke-linecap="round" stroke-linejoin="round" />
<polyline points="1176.7,620.9 1209.3,620.9 1218.5,615.2 1218.5,600.8 1209.3,595.1 1176.7,595.1" stroke="#ffff00" stroke-width="8.2" fill="none" stroke-linecap="round" stroke-linejoin="round" />
<polyline points="1176.7,570.8 1176.7,557.8 1187.1,551.4 1208.0,551.4 1218.5,557.8 1218.5,570.8 1208.0,577.2 1187.1,577.2 1176.7,570.8" stroke="#ffff00" stroke-width="8.2" fill="none" stroke-linecap="round" stroke-linejoin="round" />
<polyline points="1176.7,534.5 1176.7,508.7 1183.0,508.7 1210.1,526.8 1218.5,526.8" stroke="#ffff00" stroke-width="8.2" fill="none" stroke-linecap="round" stroke-linejoin="round" />
<polyline points="1218.5,472.6 1176.7,472.6 1206.8,491.9 1206.8,466.1" stroke="#ffff00" stroke-width="8.2" fill="none" stroke-linecap="round" stroke-linejoin="round" />
<polyline points="1218.5,448.9 1218.5,423.1" stroke="#ffff00" stroke-width="8.2" fill="none" stroke-linecap="round" stroke-linejoin="round" />
<polyline points="1176.7,400.9 1176.7,388.1 1187.1,381.6 1208.0,381.6 1218.5,388.1 1218.5,400.9 1208.0,407.4 1187.1,407.4 1176.7,400.9" stroke="#ffff00" stroke-width="8.2" fill="none" stroke-linecap="round" stroke-linejoin="round" />
<polyline points="1176.7,359.4 1176.7,344.0 1183.0,338.8 1190.5,338.8 1197.6,344.0 1197.6,359.4 1190.5,364.6 1183.0,364.6 1176.7,359.4" stroke="#ffff00" stroke-width="8.2" fill="none" stroke-linecap="round" stroke-linejoin="round" />
<polyline points="1197.6,359.4 1197.6,344.0 1204.7,338.8 1212.2,338.8 1218.5,344.0 1218.5,359.4 1212.2,364.6 1204.7,364.6 1197.6,359.4" stroke="#ffff00" stroke-width="8.2" fill="none" stroke-linecap="round" stroke-linejoin="round" />
<polyline points="1218.5,301.6 1176.7,301.6 1206.8,320.9 1206.8,295.1" stroke="#ffff00" stroke-width="8.2" fill="none" stroke-linecap="round" stroke-linejoin="round" />
<path d="M1205.4 145.3 L1277.4 217.3 M1205.4 217.3 L1277.4 145.3" stroke="#8b0000" stroke-width="1.3"/>
<path d="M1202 194.7 L1274 266.7 M1202 266.7 L1274 194.7" stroke="#8b0000" stroke-width="1.3"/>
<polyline points="1647.7,95.1 1665.8,95.1 1673.5,107.3 1673.5,123.7 1665.8,135.9 1647.7,135.9 1647.7,95.1" stroke="#ffff00" stroke-width="8.2" fill="none" stroke-linecap="round" stroke-linejoin="round" />
<polyline points="1690.1,103.3 1695.5,95.1 1695.5,135.9" stroke="#ffff00" stroke-width="8.2" fill="none" stroke-linecap="round" stroke-linejoin="round" />
<polyline points="1690.1,135.9 1700.9,135.9" stroke="#ffff00" stroke-width="8.2" fill="none" stroke-linecap="round" stroke-linejoin="round" />
<polyline points="1670.7,203.2 1665.0,194.1 1651.3,194.1 1644.9,204.4 1644.9,225.1 1651.3,235.4 1665.0,235.4 1670.7,226.3" stroke="#ffff00" stroke-width="8.2" fill="none" stroke-linecap="round" stroke-linejoin="round" />
<polyline points="1687.1,200.3 1692.3,194.1 1707.7,194.1 1712.9,201.5 1712.9,207.7 1707.7,214.8 1696.1,214.8" stroke="#ffff00" stroke-width="8.2" fill="none" stroke-linecap="round" stroke-linejoin="round" />
<polyline points="1707.7,214.8 1712.9,221.8 1712.9,228.0 1707.7,235.4 1692.3,235.4 1687.1,229.2" stroke="#ffff00" stroke-width="8.2" fill="none" stroke-linecap="round" stroke-linejoin="round" />
<polyline points="1729.7,200.3 1734.9,194.1 1750.3,194.1 1755.5,201.5 1755.5,207.7 1750.3,214.8 1738.7,214.8" stroke="#ffff00" stroke-width="8.2" fill="none" stroke-linecap="round" stroke-linejoin="round" />
<polyline points="1750.3,214.8 1755.5,221.8 1755.5,228.0 1750.3,235.4 1734.9,235.4 1729.7,229.2" stroke="#ffff00" stroke-width="8.2" fill="none" stroke-linecap="round" stroke-linejoin="round" />
<polyline points="1777.8,235.4 1777.8,194.1 1798.4,194.1 1803.6,201.5 1803.6,207.3 1798.4,214.8 1777.8,214.8" stroke="#ffff00" stroke-width="8.2" fill="none" stroke-linecap="round" stroke-linejoin="round" />
<polyline points="1792.0,214.8 1803.6,235.4" stroke="#ffff00" stroke-width="8.2" fill="none" stroke-linecap="round" stroke-linejoin="round" />
<polyline points="1821.6,202.4 1827.0,194.1 1827.0,235.4" stroke="#ffff00" stroke-width="8.2" fill="none" stroke-linecap="round" stroke-linejoin="round" />
<polyline points="1821.6,235.4 1832.4,235.4" stroke="#ffff00" stroke-width="8.2" fill="none" stroke-linecap="round" stroke-linejoin="round" />
<polyline points="1881.4,214.8 1860.8,214.8 1855.6,207.7 1855.6,201.5 1860.8,194.1 1876.2,194.1 1881.4,202.4 1881.4,227.1 1876.2,235.4 1860.8,235.4 1855.6,229.2" stroke="#ffff00" stroke-width="8.2" fill="none" stroke-linecap="round" stroke-linejoin="round" />
<path d="M1652 159.6 L1724 231.6 M1652 231.6 L1724 159.6" stroke="#009000" stroke-width="1.3"/>
<path d="M1492.3 239.60000000000002 L1564.3 311.6 M1492.3 311.6 L1564.3 239.60000000000002" stroke="#009000" stroke-width="1.3"/>
<path d="M1445.2 288.9 L1517.2 360.9 M1445.2 360.9 L1517.2 288.9" stroke="#009000" stroke-width="1.3"/>
<path d="M1492.3 337 L1564.3 409 M1492.3 409 L1564.3 337" stroke="#009000" stroke-width="1.3"/>
<path d="M1587.7 337 L1659.7 409 M1587.7 409 L1659.7 337" stroke="#009000" stroke-width="1.3"/>
<path d="M1636.8 371 L1708.8 443 M1636.8 443 L1708.8 371" stroke="#009000" stroke-width="1.3"/>
<path d="M1744 371 L1816 443 M1744 443 L1816 371" stroke="#009000" stroke-width="1.3"/>
<path d="M1636.8 470.8 L1708.8 542.8 M1636.8 542.8 L1708.8 470.8" stroke="#009000" stroke-width="1.3"/>
<path d="M1744 470.8 L1816 542.8 M1744 542.8 L1816 470.8" stroke="#009000" stroke-width="1.3"/>
<path d="M1440.8 553 L1512.8 625 M1440.8 625 L1512.8 553" stroke="#009000" stroke-width="1.3"/>
<path d="M1492.3 504.79999999999995 L1564.3 576.8 M1492.3 576.8 L1564.3 504.79999999999995" stroke="#009000" stroke-width="1.3"/>
<path d="M1587.7 504.79999999999995 L1659.7 576.8 M1587.7 576.8 L1659.7 504.79999999999995" stroke="#009000" stroke-width="1.3"/>
<path d="M1492.3 600 L1564.3 672 M1492.3 672 L1564.3 600" stroke="#009000" stroke-width="1.3"/>
<path d="M1440.8 599 L1512.8 671 M1440.8 671 L1512.8 599" stroke="#009000" stroke-width="1.3"/>
<path d="M1492.3 647.3 L1564.3 719.3 M1492.3 719.3 L1564.3 647.3" stroke="#009000" stroke-width="1.3"/>
<path d="M1652 671.4 L1724 743.4 M1652 743.4 L1724 671.4" stroke="#009000" stroke-width="1.3"/>
<path d="M1780.4 671.4 L1852.4 743.4 M1780.4 743.4 L1852.4 671.4" stroke="#009000" stroke-width="1.3"/>
<path d="M1652 800.7 L1724 872.7 M1652 872.7 L1724 800.7" stroke="#009000" stroke-width="1.3"/>
<path d="M1780.4 800.7 L1852.4 872.7 M1780.4 872.7 L1852.4 800.7" stroke="#009000" stroke-width="1.3"/>
<polyline points="1639.1,393.1 1664.9,393.1" stroke="#ffff00" stroke-width="8.2" fill="none" stroke-linecap="round" stroke-linejoin="round" />
<polyline points="1652.0,393.1 1652.0,433.4" stroke="#ffff00" stroke-width="8.2" fill="none" stroke-linecap="round" stroke-linejoin="round" />
<polyline points="1681.1,433.4 1681.1,393.1 1701.7,393.1 1706.9,400.4 1706.9,407.2 1701.7,414.1 1681.1,414.1" stroke="#ffff00" stroke-width="8.2" fill="none" stroke-linecap="round" stroke-linejoin="round" />
<polyline points="1723.1,401.2 1728.5,393.1 1728.5,433.4" stroke="#ffff00" stroke-width="8.2" fill="none" stroke-linecap="round" stroke-linejoin="round" />
<polyline points="1723.1,433.4 1733.9,433.4" stroke="#ffff00" stroke-width="8.2" fill="none" stroke-linecap="round" stroke-linejoin="round" />
<polyline points="1794.0,403.5 1807.0,403.5 1813.4,413.3 1813.4,433.0 1807.0,442.8 1794.0,442.8 1787.6,433.0 1787.6,413.3 1794.0,403.5" stroke="#ffff00" stroke-width="8.2" fill="none" stroke-linecap="round" stroke-linejoin="round" />
<polyline points="1801.8,431.0 1810.8,444.8" stroke="#ffff00" stroke-width="8.2" fill="none" stroke-linecap="round" stroke-linejoin="round" />
<polyline points="1829.1,411.4 1834.5,403.5 1834.5,442.8" stroke="#ffff00" stroke-width="8.2" fill="none" stroke-linecap="round" stroke-linejoin="round" />
<polyline points="1829.1,442.8 1839.9,442.8" stroke="#ffff00" stroke-width="8.2" fill="none" stroke-linecap="round" stroke-linejoin="round" />
<polyline points="1788.5,459.1 1801.5,459.1 1807.9,469.6 1807.9,490.4 1801.5,500.9 1788.5,500.9 1782.1,490.4 1782.1,469.6 1788.5,459.1" stroke="#ffff00" stroke-width="8.2" fill="none" stroke-linecap="round" stroke-linejoin="round" />
<polyline points="1796.3,488.4 1805.3,503.0" stroke="#ffff00" stroke-width="8.2" fill="none" stroke-linecap="round" stroke-linejoin="round" />
<polyline points="1821.6,466.6 1826.8,459.1 1842.2,459.1 1847.4,467.5 1847.4,475.0 1821.6,500.9 1847.4,500.9" stroke="#ffff00" stroke-width="8.2" fill="none" stroke-linecap="round" stroke-linejoin="round" />
<polyline points="1631.1,486.1 1656.9,486.1" stroke="#ffff00" stroke-width="8.2" fill="none" stroke-linecap="round" stroke-linejoin="round" />
<polyline points="1644.0,486.1 1644.0,526.4" stroke="#ffff00" stroke-width="8.2" fill="none" stroke-linecap="round" stroke-linejoin="round" />
<polyline points="1675.1,526.4 1675.1,486.1 1695.7,486.1 1700.9,493.4 1700.9,500.2 1695.7,507.1 1675.1,507.1" stroke="#ffff00" stroke-width="8.2" fill="none" stroke-linecap="round" stroke-linejoin="round" />
<polyline points="1715.6,493.4 1720.8,486.1 1736.2,486.1 1741.4,494.2 1741.4,501.4 1715.6,526.4 1741.4,526.4" stroke="#ffff00" stroke-width="8.2" fill="none" stroke-linecap="round" stroke-linejoin="round" />
<polyline points="1670.7,676.5 1665.0,667.7 1651.3,667.7 1644.9,677.7 1644.9,697.7 1651.3,707.7 1665.0,707.7 1670.7,698.9" stroke="#ffff00" stroke-width="8.2" fill="none" stroke-linecap="round" stroke-linejoin="round" />
<polyline points="1687.8,673.7 1693.0,667.7 1708.4,667.7 1713.6,674.9 1713.6,680.9 1708.4,687.7 1696.8,687.7" stroke="#ffff00" stroke-width="8.2" fill="none" stroke-linecap="round" stroke-linejoin="round" />
<polyline points="1708.4,687.7 1713.6,694.5 1713.6,700.5 1708.4,707.7 1693.0,707.7 1687.8,701.7" stroke="#ffff00" stroke-width="8.2" fill="none" stroke-linecap="round" stroke-linejoin="round" />
<polyline points="1751.0,707.7 1751.0,667.7 1731.7,696.5 1757.5,696.5" stroke="#ffff00" stroke-width="8.2" fill="none" stroke-linecap="round" stroke-linejoin="round" />
<polyline points="1777.7,707.7 1777.7,667.7 1798.3,667.7 1803.5,674.9 1803.5,680.5 1798.3,687.7 1777.7,687.7" stroke="#ffff00" stroke-width="8.2" fill="none" stroke-linecap="round" stroke-linejoin="round" />
<polyline points="1791.9,687.7 1803.5,707.7" stroke="#ffff00" stroke-width="8.2" fill="none" stroke-linecap="round" stroke-linejoin="round" />
<polyline points="1821.6,674.9 1826.8,667.7 1842.2,667.7 1847.4,675.7 1847.4,682.9 1821.6,707.7 1847.4,707.7" stroke="#ffff00" stroke-width="8.2" fill="none" stroke-linecap="round" stroke-linejoin="round" />
<polyline points="1871.5,667.7 1884.5,667.7 1890.9,677.7 1890.9,697.7 1884.5,707.7 1871.5,707.7 1865.1,697.7 1865.1,677.7 1871.5,667.7" stroke="#ffff00" stroke-width="8.2" fill="none" stroke-linecap="round" stroke-linejoin="round" />
<rect x="1547" y="681" width="10" height="141" fill="#ffff00"/>
<rect x="1547" y="810" width="15" height="12" fill="#ffff00"/>
<rect x="1618.8" y="681" width="10.2" height="141" fill="#ffff00"/>
<rect x="1613" y="810" width="16" height="12" fill="#ffff00"/>
<rect x="1547" y="681" width="15" height="10" fill="#ffff00"/>
<rect x="1613" y="681" width="16" height="10" fill="#ffff00"/>
<polyline points="1646.1,769.5 1664.2,769.5 1671.9,781.9 1671.9,798.3 1664.2,810.7 1646.1,810.7 1646.1,769.5" stroke="#ffff00" stroke-width="8.2" fill="none" stroke-linecap="round" stroke-linejoin="round" />
<polyline points="1688.9,776.9 1694.1,769.5 1709.5,769.5 1714.7,777.7 1714.7,785.2 1688.9,810.7 1714.7,810.7" stroke="#ffff00" stroke-width="8.2" fill="none" stroke-linecap="round" stroke-linejoin="round" />
<path d="M1436.4 737 L1508.4 809 M1436.4 809 L1508.4 737" stroke="#8b0000" stroke-width="1.3"/>
<path d="M1478 696.5 L1550 768.5 M1478 768.5 L1550 696.5" stroke="#8b0000" stroke-width="1.3"/>
<path d="M1235 371 L1307 443 M1235 443 L1307 371" stroke="#009000" stroke-width="1.3"/>
<path d="M1147.5 647.3 L1219.5 719.3 M1147.5 719.3 L1219.5 647.3" stroke="#8b0000" stroke-width="1.3"/>
<path d="M1152 695.4 L1224 767.4 M1152 767.4 L1224 695.4" stroke="#8b0000" stroke-width="1.3"/>
<polyline points="1407.2,869.3 1401.5,860.5 1387.8,860.5 1381.4,870.5 1381.4,890.6 1387.8,900.6 1401.5,900.6 1407.2,891.8" stroke="#ffff00" stroke-width="8.2" fill="none" stroke-linecap="round" stroke-linejoin="round" />
<polyline points="1423.1,867.7 1428.3,860.5 1443.7,860.5 1448.9,868.5 1448.9,875.7 1423.1,900.6 1448.9,900.6" stroke="#ffff00" stroke-width="8.2" fill="none" stroke-linecap="round" stroke-linejoin="round" />
<polyline points="1472.9,860.5 1488.3,860.5 1493.5,866.5 1493.5,873.7 1488.3,880.5 1472.9,880.5 1467.7,873.7 1467.7,866.5 1472.9,860.5" stroke="#ffff00" stroke-width="8.2" fill="none" stroke-linecap="round" stroke-linejoin="round" />
<polyline points="1472.9,880.5 1488.3,880.5 1493.5,887.4 1493.5,894.6 1488.3,900.6 1472.9,900.6 1467.7,894.6 1467.7,887.4 1472.9,880.5" stroke="#ffff00" stroke-width="8.2" fill="none" stroke-linecap="round" stroke-linejoin="round" />
<polyline points="1543.9,869.3 1538.2,860.5 1524.5,860.5 1518.1,870.5 1518.1,890.6 1524.5,900.6 1538.2,900.6 1543.9,891.8" stroke="#ffff00" stroke-width="8.2" fill="none" stroke-linecap="round" stroke-linejoin="round" />
<polyline points="1560.9,866.5 1566.1,860.5 1581.5,860.5 1586.7,867.7 1586.7,873.7 1581.5,880.5 1569.9,880.5" stroke="#ffff00" stroke-width="8.2" fill="none" stroke-linecap="round" stroke-linejoin="round" />
<polyline points="1581.5,880.5 1586.7,887.4 1586.7,893.4 1581.5,900.6 1566.1,900.6 1560.9,894.6" stroke="#ffff00" stroke-width="8.2" fill="none" stroke-linecap="round" stroke-linejoin="round" />
<polyline points="1628.2,862.5 1615.3,870.5 1603.7,884.6 1603.7,893.4 1608.9,900.6 1624.3,900.6 1629.5,893.4 1629.5,887.8 1624.3,880.5 1608.9,880.5 1603.7,886.6" stroke="#ffff00" stroke-width="8.2" fill="none" stroke-linecap="round" stroke-linejoin="round" />
<polyline points="1676.7,869.3 1671.0,860.5 1657.3,860.5 1650.9,870.5 1650.9,890.6 1657.3,900.6 1671.0,900.6 1676.7,891.8" stroke="#ffff00" stroke-width="8.2" fill="none" stroke-linecap="round" stroke-linejoin="round" />
<polyline points="1693.1,867.7 1698.3,860.5 1713.7,860.5 1718.9,868.5 1718.9,875.7 1693.1,900.6 1718.9,900.6" stroke="#ffff00" stroke-width="8.2" fill="none" stroke-linecap="round" stroke-linejoin="round" />
<polyline points="1736.1,860.5 1761.9,860.5 1761.9,866.5 1743.8,892.6 1743.8,900.6" stroke="#ffff00" stroke-width="8.2" fill="none" stroke-linecap="round" stroke-linejoin="round" />
<polyline points="1384.1,961.2 1384.1,921.1 1404.7,921.1 1409.9,928.3 1409.9,933.9 1404.7,941.1 1384.1,941.1" stroke="#ffff00" stroke-width="8.2" fill="none" stroke-linecap="round" stroke-linejoin="round" />
<polyline points="1398.3,941.1 1409.9,961.2" stroke="#ffff00" stroke-width="8.2" fill="none" stroke-linecap="round" stroke-linejoin="round" />
<polyline points="1417.1,929.1 1422.5,921.1 1422.5,961.2" stroke="#ffff00" stroke-width="8.2" fill="none" stroke-linecap="round" stroke-linejoin="round" />
<polyline points="1417.1,961.2 1427.9,961.2" stroke="#ffff00" stroke-width="8.2" fill="none" stroke-linecap="round" stroke-linejoin="round" />
<polyline points="1468.8,921.1 1484.2,921.1 1489.4,927.1 1489.4,934.3 1484.2,941.1 1468.8,941.1 1463.6,934.3 1463.6,927.1 1468.8,921.1" stroke="#ffff00" stroke-width="8.2" fill="none" stroke-linecap="round" stroke-linejoin="round" />
<polyline points="1468.8,941.1 1484.2,941.1 1489.4,948.0 1489.4,955.2 1484.2,961.2 1468.8,961.2 1463.6,955.2 1463.6,948.0 1468.8,941.1" stroke="#ffff00" stroke-width="8.2" fill="none" stroke-linecap="round" stroke-linejoin="round" />
<polyline points="1518.1,961.2 1518.1,921.1 1538.7,921.1 1543.9,928.3 1543.9,933.9 1538.7,941.1 1518.1,941.1" stroke="#ffff00" stroke-width="8.2" fill="none" stroke-linecap="round" stroke-linejoin="round" />
<polyline points="1532.3,941.1 1543.9,961.2" stroke="#ffff00" stroke-width="8.2" fill="none" stroke-linecap="round" stroke-linejoin="round" />
<polyline points="1563.1,928.3 1568.3,921.1 1583.7,921.1 1588.9,929.1 1588.9,936.3 1563.1,961.2 1588.9,961.2" stroke="#ffff00" stroke-width="8.2" fill="none" stroke-linecap="round" stroke-linejoin="round" />
<polyline points="1628.6,923.1 1615.7,931.1 1604.1,945.2 1604.1,954.0 1609.3,961.2 1624.7,961.2 1629.9,954.0 1629.9,948.4 1624.7,941.1 1609.3,941.1 1604.1,947.2" stroke="#ffff00" stroke-width="8.2" fill="none" stroke-linecap="round" stroke-linejoin="round" />
<polyline points="1664.1,961.2 1664.1,921.1 1684.7,921.1 1689.9,928.3 1689.9,933.9 1684.7,941.1 1664.1,941.1" stroke="#ffff00" stroke-width="8.2" fill="none" stroke-linecap="round" stroke-linejoin="round" />
<polyline points="1678.3,941.1 1689.9,961.2" stroke="#ffff00" stroke-width="8.2" fill="none" stroke-linecap="round" stroke-linejoin="round" />
<polyline points="1710.0,921.1 1725.4,921.1 1730.6,927.1 1730.6,934.3 1725.4,941.1 1710.0,941.1 1704.8,934.3 1704.8,927.1 1710.0,921.1" stroke="#ffff00" stroke-width="8.2" fill="none" stroke-linecap="round" stroke-linejoin="round" />
<polyline points="1710.0,941.1 1725.4,941.1 1730.6,948.0 1730.6,955.2 1725.4,961.2 1710.0,961.2 1704.8,955.2 1704.8,948.0 1710.0,941.1" stroke="#ffff00" stroke-width="8.2" fill="none" stroke-linecap="round" stroke-linejoin="round" />
<rect x="1242.4" y="293" width="233.3" height="324.5" fill="rgba(255,255,255,0.5)"/>
</svg>
<svg class="abs" style="left:272px;top:68px" width="460" height="32" viewBox="272 68 460 32">
<rect x="272" y="68" width="459" height="31.5" rx="5" fill="#3e3e3e"/>
<path d="M285.5 77 H299.5 L294.5 83.5 V90 H290.5 V83.5Z" fill="#a8dcec"/><rect x="286" y="77" width="13" height="2.5" fill="#6ab8d8"/>
<path d="M324.5 76.5 V90.5 M317.5 83.5 H331.5" stroke="#6f9be6" stroke-width="1.4"/><path d="M324.5 75.5 L322.5 78 H326.5Z M324.5 91.5 L322.5 89 H326.5Z M316.5 83.5 L319 81.5 V85.5Z M332.5 83.5 L330 81.5 V85.5Z" fill="#6f9be6"/>
<rect x="350.5" y="77" width="13" height="13" fill="none" stroke="#6f9be6" stroke-width="1.5" stroke-dasharray="2.5 1.5"/>
<rect x="383" y="78" width="1.8" height="12" fill="#8a8a8a"/><rect x="386" y="78.5" width="5" height="2.5" fill="#8a8a8a"/><rect x="386" y="82.5" width="9" height="3.5" fill="#9a9a9a"/><path d="M387 88 H394" stroke="#8a8a8a" stroke-width="1"/>
<rect x="405" y="76" width="1" height="16" fill="#222"/>
<path d="M415 78 H418 M415 81 H418 M415 84 H418 M415 87 H418" stroke="#c89a30" stroke-width="1.2"/>
<polygon points="339.5,98 332.5,98 339.5,91" fill="#f0f0f0"/><polygon points="371.5,98 364.5,98 371.5,91" fill="#f0f0f0"/><polygon points="403.5,98 396.5,98 403.5,91" fill="#f0f0f0"/><polygon points="723,98 716,98 723,91" fill="#f0f0f0"/>
<path d="M703 84 H717" stroke="#e08a20" stroke-width="1.5"/><polygon points="707,79 713,79 716,84 713,89 707,89 704,84" fill="#f5c040" stroke="#e0a020"/>
</svg>
<svg class="abs" style="left:1215px;top:68px" width="460" height="32" viewBox="1215 68 460 32">
<rect x="1215.5" y="68.5" width="458" height="31" rx="5" fill="#3e3e3e"/>
<path d="M1228.5 77 H1242.5 L1237.5 83.5 V90 H1233.5 V83.5Z" fill="#a8dcec"/><circle cx="1240.5" cy="88.5" r="3.2" fill="#5fcf4f"/>
<path d="M1270 78.5 H1274 A5 5 0 0 1 1274 88.5 H1270" stroke="#e07080" stroke-width="2.6" fill="none"/><circle cx="1262" cy="79" r="1.3" fill="#bbb"/><circle cx="1262" cy="83.5" r="1.3" fill="#bbb"/><circle cx="1262" cy="88" r="1.3" fill="#bbb"/>
<path d="M1299 76.5 V90.5 M1292 83.5 H1306" stroke="#6f9be6" stroke-width="1.4"/>
<rect x="1325" y="77" width="13" height="13" fill="none" stroke="#6f9be6" stroke-width="1.5" stroke-dasharray="2.5 1.5"/>
<rect x="1358" y="82" width="3" height="6" fill="#e07080"/><rect x="1362" y="77" width="3" height="11" fill="#7fb0e8"/><rect x="1366" y="82" width="3" height="6" fill="#e07080"/><rect x="1357" y="89" width="13" height="2" fill="#7fb0e8"/>
<rect x="1380" y="76" width="1" height="16" fill="#222"/>
<rect x="1390.5" y="77.5" width="12" height="12" fill="#c8d0d8" stroke="#999" stroke-dasharray="1 1" stroke-width="2"/>
<circle cx="1422" cy="89" r="2" fill="none" stroke="#e0a030" stroke-width="1.3"/><circle cx="1435" cy="77" r="2" fill="none" stroke="#e0a030" stroke-width="1.3"/><path d="M1423.5 87.5 L1433.5 78.5" stroke="#6f9be6" stroke-width="1.5"/><path d="M1422 87 V77 H1428" stroke="#e0a030" stroke-width="1.3" fill="none"/>
<path d="M1454 88 Q1455 77 1458 79 Q1461 81 1461 86 Q1462 77 1466 80 L1467 88" stroke="#6f9be6" stroke-width="1.5" fill="none"/><circle cx="1454" cy="89" r="1.6" fill="none" stroke="#e0a030"/><circle cx="1468" cy="89" r="1.6" fill="none" stroke="#e0a030"/>
<circle cx="1491" cy="81.5" r="5" fill="none" stroke="#f0c030" stroke-width="2.6"/><rect x="1490" y="86" width="3" height="6" fill="#e0a040"/><rect x="1495" y="80.5" width="5" height="2" fill="#4fbf4f"/>
<path d="M1517 90 V84 H1524 V78 H1532 V90Z" fill="#c8e4f4"/>
<rect x="1549.5" y="76.5" width="14" height="14" fill="none" stroke="#e090c0" stroke-width="1.2"/><circle cx="1552.5" cy="87.5" r="1.5" fill="none" stroke="#e0a030"/><circle cx="1560.5" cy="79.5" r="1.5" fill="none" stroke="#e0a030"/><path d="M1553.5 86.5 L1559.5 80.5" stroke="#6f9be6" stroke-width="1.3"/>
<path d="M1582 78 V89 H1595 V78" stroke="#7fb0e8" stroke-width="1.3" fill="none"/><circle cx="1582" cy="77" r="1.6" fill="none" stroke="#e0a030"/><circle cx="1595" cy="77" r="1.6" fill="none" stroke="#e0a030"/><text x="1588.5" y="88" font-family="Liberation Serif" font-size="8" fill="#9fc0e8" text-anchor="middle">10</text>
<text x="1621" y="91" font-family="Liberation Serif" font-size="19" font-weight="bold" fill="#5f9be6" text-anchor="middle">A</text>
<path d="M1647 90 L1660 77" stroke="#5f9be6" stroke-width="1.8"/>
<polygon points="1249.5,98 1242.5,98 1249.5,91" fill="#f0f0f0"/>
<polygon points="1281.5,98 1274.5,98 1281.5,91" fill="#f0f0f0"/>
<polygon points="1313.5,98 1306.5,98 1313.5,91" fill="#f0f0f0"/>
<polygon points="1345.5,98 1338.5,98 1345.5,91" fill="#f0f0f0"/>
<polygon points="1377.5,98 1370.5,98 1377.5,91" fill="#f0f0f0"/>
<polygon points="1410,98 1403,98 1410,91" fill="#f0f0f0"/>
<polygon points="1442,98 1435,98 1442,91" fill="#f0f0f0"/>
<polygon points="1474,98 1467,98 1474,91" fill="#f0f0f0"/>
<polygon points="1506,98 1499,98 1506,91" fill="#f0f0f0"/>
<polygon points="1538,98 1531,98 1538,91" fill="#f0f0f0"/>
<polygon points="1570,98 1563,98 1570,91" fill="#f0f0f0"/>
<polygon points="1602,98 1595,98 1602,91" fill="#f0f0f0"/>
<polygon points="1634,98 1627,98 1634,91" fill="#f0f0f0"/>
<polygon points="1666,98 1659,98 1666,91" fill="#f0f0f0"/>
</svg>
<div class="abs" style="left:422px;top:32px;width:273px;height:468px;background:rgba(0,0,0,0.25);filter:blur(3px)"></div>
<div class="abs" style="left:418px;top:29px;width:274px;height:467px;background:#3e3e3e;border:1px solid #2c2c2c;box-sizing:border-box"></div>
<div class="abs mt" style="left:458px;top:35px;color:#e6e6e6">上/下层次 (<u>H</u>)</div>
<svg class="abs" style="left:426px;top:38px" width="14" height="13" viewBox="0 0 14 13"><path d="M3 0 V8 M0.5 6 L3 10 L5.5 6" stroke="#4f8fdf" stroke-width="2" fill="#4f8fdf"/><path d="M10 13 V4 M7.5 6 L10 2 L12.5 6" stroke="#8fbff5" stroke-width="2" fill="#8fbff5"/></svg>
<div class="abs" style="left:458px;top:62px;width:233px;height:1px;background:#2a2a2a"></div>
<div class="abs mt" style="left:458px;top:69px;color:#e6e6e6">参数管理器 (<u>R</u>)...</div>
<div class="abs mt" style="left:458px;top:98px;color:#e6e6e6">封装管理器 (<u>G</u>)...</div>
<div class="abs mt" style="left:458px;top:127px;color:#e6e6e6">从库更新 (<u>L</u>)...</div>
<div class="abs mt" style="left:458px;top:156px;color:#e6e6e6">更新从库中选择的 (<u>L</u>)...</div>
<div class="abs mt" style="left:458px;top:185px;color:#e6e6e6">从数据库更新参数 (<u>D</u>)...</div>
<div class="abs mt" style="left:458px;top:214px;color:#e6e6e6">条目管理器...</div>
<div class="abs" style="left:458px;top:241px;width:233px;height:1px;background:#2a2a2a"></div>
<div class="abs" style="left:419px;top:242px;width:272px;height:30px;background:#6284a6"></div>
<div class="abs" style="left:447px;top:242px;width:88px;height:24px;border:3px solid #f00"></div>
<div class="abs mt" style="left:458px;top:248px;color:#fff">标注 (<u>A</u>)</div>
<svg class="abs" style="left:675px;top:253px" width="7" height="10"><path d="M0 0 L6 5 L0 10Z" fill="#e6e6e6"/></svg>
<div class="abs mt" style="left:458px;top:282px;color:#e6e6e6"><span class="lat">Signal Integrity...</span></div>
<svg class="abs" style="left:426px;top:284px" width="16" height="14" viewBox="0 0 16 14"><rect x="0.5" y="3.5" width="13" height="9" fill="#f5d68a" stroke="#c0801a"/><path d="M2 9 L4 5 L6 9 L8 5 L10 9 L12 5" stroke="#8a5a10" fill="none" stroke-width="1.2"/><path d="M11 0 L16 3 L11 6Z" fill="#2fbf4f"/></svg>
<div class="abs" style="left:458px;top:309px;width:233px;height:1px;background:#2a2a2a"></div>
<div class="abs mt" style="left:458px;top:316px;color:#e6e6e6">转换 (<u>V</u>)</div>
<svg class="abs" style="left:675px;top:321px" width="7" height="10"><path d="M0 0 L6 5 L0 10Z" fill="#e6e6e6"/></svg>
<div class="abs" style="left:458px;top:343px;width:233px;height:1px;background:#2a2a2a"></div>
<div class="abs mt" style="left:458px;top:349px;color:#e6e6e6">交叉探针 (<u>C</u>)</div>
<svg class="abs" style="left:426px;top:350px" width="15" height="16" viewBox="0 0 15 16"><rect x="2" y="0" width="5" height="5" fill="#f0d040"/><path d="M13 4 L4 13" stroke="#e06060" stroke-width="3"/><path d="M4 13 L1 16" stroke="#888" stroke-width="1.5"/></svg>
<div class="abs" style="left:421px;top:375px;width:25px;height:26px;background:#4a4a4a;border:1px solid #5f7f9f;box-sizing:border-box"></div>
<div class="abs mt lat" style="left:567px;top:378px">Shift+Ctrl+X</div>
<div class="abs mt" style="left:458px;top:379px;color:#e6e6e6">交叉选择模式</div>
<svg class="abs" style="left:425px;top:380px" width="18" height="17" viewBox="0 0 18 17"><rect x="1" y="0" width="5" height="5" fill="#f0d040"/><path d="M2 6 H10 L15 10.5 L10 15 H2Z" fill="#f0d060"/><path d="M15 10.5 H18" stroke="#f0d060"/></svg>
<div class="abs mt" style="left:458px;top:408px;color:#e6e6e6">选择PCB 器件 (<u>S</u>)</div>
<div class="abs" style="left:458px;top:434px;width:233px;height:1px;background:#2a2a2a"></div>
<div class="abs mt" style="left:458px;top:442px;color:#e6e6e6">配置管脚交换 (<u>W</u>)...</div>
<div class="abs mt" style="left:458px;top:471px;color:#e6e6e6">原理图优先项 (<u>P</u>)...</div>
<div class="abs" style="left:695px;top:244px;width:252px;height:268px;background:rgba(0,0,0,0.25);filter:blur(3px)"></div>
<div class="abs" style="left:691px;top:241px;width:253px;height:269px;background:#3e3e3e;border:1px solid #2c2c2c;box-sizing:border-box"></div>
<div class="abs mt" style="left:731px;top:248px;color:#e6e6e6">原理图标注 (<u>A</u>)...</div>
<div class="abs mt" style="left:731px;top:277px;color:#e6e6e6">重置原理图位号 (<u>E</u>)...</div>
<div class="abs mt" style="left:731px;top:306px;color:#e6e6e6">重置重复的原理图位号 (<u>I</u>)...</div>
<div class="abs mt" style="left:731px;top:335px;color:#e6e6e6">静态标注原理图 (<u>U</u>)...</div>
<div class="abs mt" style="left:731px;top:364px;color:#e6e6e6">强制标注所有原理图 (<u>N</u>)...</div>
<div class="abs" style="left:693px;top:388px;width:249px;height:29px;background:#6284a6"></div>
<div class="abs" style="left:707px;top:389px;width:196px;height:20px;border:3px solid #f00"></div>
<div class="abs mt" style="left:731px;top:393px;color:#fff">反向标注原理图 (<u>B</u>)...</div>
<div class="abs mt" style="left:731px;top:422px;color:#e6e6e6">图纸编号 (<u>T</u>)...</div>
<div class="abs" style="left:731px;top:448px;width:212px;height:1px;background:#2a2a2a"></div>
<div class="abs mt" style="left:731px;top:456px;color:#e6e6e6">板级标注...</div>
<div class="abs mt lat" style="left:864px;top:455px">Ctrl+L</div>
<div class="abs mt" style="left:731px;top:485px;color:#e6e6e6">标注编译的图纸 (<u>M</u>)...</div>
<svg class="abs" style="left:0;top:0;pointer-events:none" width="1919" height="990"><line x1="543" y1="284" x2="685" y2="372" stroke="#f00" stroke-width="2.2"/><polygon points="697,379.5 680,379 688.5,365" fill="#f00"/></svg>
</body></html>
